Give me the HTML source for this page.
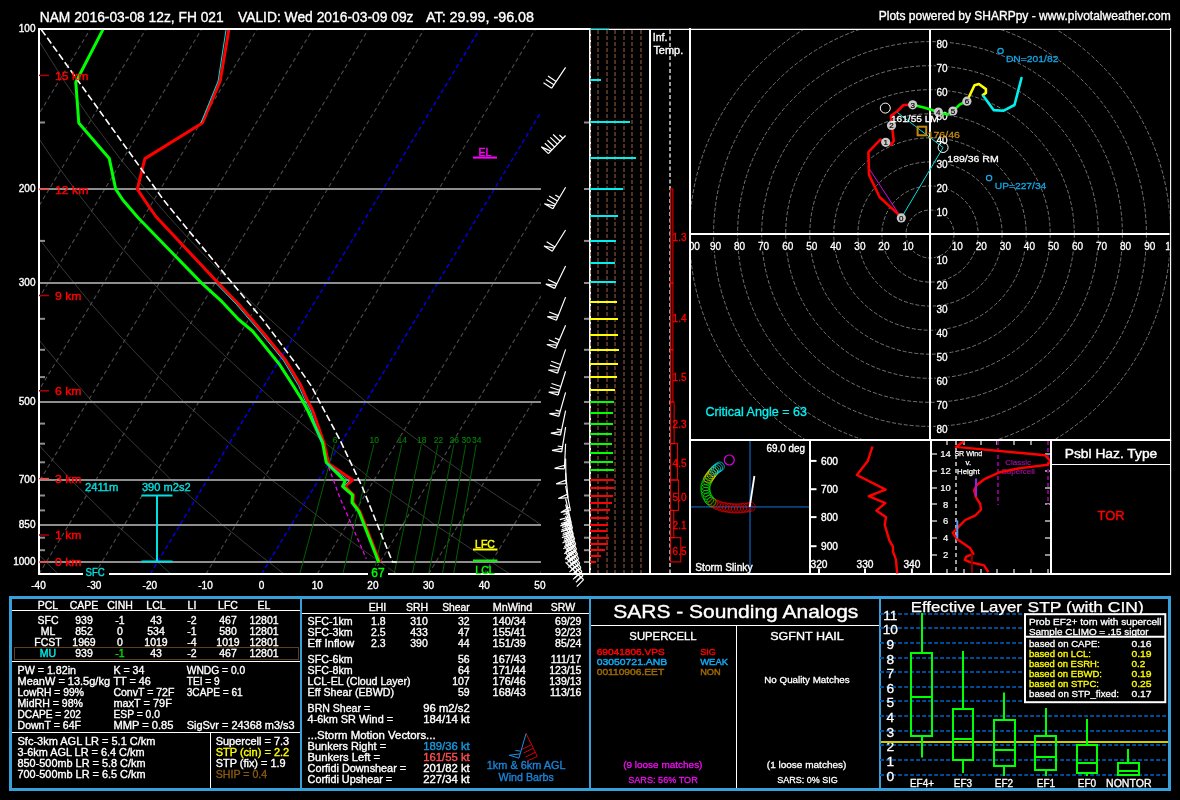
<!DOCTYPE html>
<html><head><meta charset="utf-8"><title>SHARPpy Sounding</title>
<style>
html,body{margin:0;padding:0;background:#000;}
body{width:1180px;height:800px;overflow:hidden;font-family:"Liberation Sans", sans-serif;}
svg{display:block;font-family:"Liberation Sans", sans-serif;will-change:transform;-webkit-font-smoothing:antialiased;}
text{white-space:pre;}
</style></head><body>
<svg width="1180" height="800" viewBox="0 0 1180 800" shape-rendering="auto">
<rect x="0" y="0" width="1180" height="800" fill="#000"/>
<defs><clipPath id="skclip"><rect x="40" y="30" width="501" height="543"/></clipPath></defs>
<g clip-path="url(#skclip)">
<path d="M-256.8 29.0 L-243.5 80.2 L-230.8 122.5 L-218.4 158.2 L-206.4 189.0 L-195.0 216.4 L-183.8 240.9 L-173.1 262.9 L-162.6 283.0 L-152.6 301.7 L-142.9 318.8 L-133.4 334.8 L-124.2 349.8 L-115.3 363.8 L-106.6 377.1 L-98.1 389.6 L-90.1 402.0 L-81.7 412.8 L-73.7 423.6 L-66.0 433.9 L-58.4 443.7 L-51.0 453.2 L-43.7 462.3 L-36.5 471.0 L-29.9 480.0 L-22.6 487.6 L-15.9 495.5 L-9.2 503.1 L-2.7 510.4 L3.8 517.5 L9.8 525.0 L16.3 531.2 L22.5 537.7 L28.5 544.1 L34.5 550.2 L40.4 556.3 L46.3 562.0 L51.9 567.8 L57.6 573.4" stroke="#383838" stroke-width="1" fill="none"/>
<path d="M-199.2 29.0 L-182.1 80.2 L-166.1 122.5 L-150.8 158.2 L-136.1 189.0 L-122.3 216.4 L-108.9 240.9 L-96.1 262.9 L-83.7 283.0 L-71.9 301.7 L-60.4 318.8 L-49.3 334.8 L-38.6 349.8 L-28.1 363.8 L-18.0 377.1 L-8.1 389.6 L1.2 402.0 L10.9 412.8 L20.1 423.6 L29.0 433.9 L37.8 443.7 L46.3 453.2 L54.7 462.3 L62.9 471.0 L70.7 480.0 L78.9 487.6 L86.6 495.5 L94.3 503.1 L101.7 510.4 L109.1 517.5 L116.0 525.0 L123.5 531.2 L130.5 537.7 L137.4 544.1 L144.2 550.2 L150.9 556.3 L157.6 562.0 L164.0 567.8 L170.4 573.4" stroke="#383838" stroke-width="1" fill="none"/>
<path d="M-141.5 29.0 L-120.7 80.2 L-101.3 122.5 L-83.1 158.2 L-65.9 189.0 L-49.6 216.4 L-34.0 240.9 L-19.2 262.9 L-4.8 283.0 L8.8 301.7 L22.0 318.8 L34.8 334.8 L47.1 349.8 L59.0 363.8 L70.6 377.1 L81.9 389.6 L92.5 402.0 L103.5 412.8 L113.9 423.6 L124.1 433.9 L134.0 443.7 L143.7 453.2 L153.1 462.3 L162.4 471.0 L171.2 480.0 L180.4 487.6 L189.2 495.5 L197.7 503.1 L206.2 510.4 L214.5 517.5 L222.3 525.0 L230.6 531.2 L238.5 537.7 L246.2 544.1 L253.9 550.2 L261.4 556.3 L268.9 562.0 L276.1 567.8 L283.3 573.4" stroke="#383838" stroke-width="1" fill="none"/>
<path d="M-83.9 29.0 L-59.2 80.2 L-36.6 122.5 L-15.5 158.2 L4.4 189.0 L23.1 216.4 L40.9 240.9 L57.8 262.9 L74.1 283.0 L89.5 301.7 L104.5 318.8 L118.9 334.8 L132.8 349.8 L146.2 363.8 L159.2 377.1 L171.9 389.6 L183.8 402.0 L196.1 412.8 L207.7 423.6 L219.1 433.9 L230.2 443.7 L241.0 453.2 L251.5 462.3 L261.9 471.0 L271.7 480.0 L282.0 487.6 L291.7 495.5 L301.2 503.1 L310.6 510.4 L319.8 517.5 L328.5 525.0 L337.7 531.2 L346.5 537.7 L355.1 544.1 L363.5 550.2 L371.9 556.3 L380.2 562.0 L388.2 567.8 L396.1 573.4" stroke="#383838" stroke-width="1" fill="none"/>
<path d="M-26.2 29.0 L2.2 80.2 L28.1 122.5 L52.1 158.2 L74.7 189.0 L95.8 216.4 L115.8 240.9 L134.8 262.9 L153.0 283.0 L170.3 301.7 L186.9 318.8 L203.0 334.8 L218.4 349.8 L233.4 363.8 L247.8 377.1 L261.8 389.6 L275.1 402.0 L288.7 412.8 L301.6 423.6 L314.1 433.9 L326.3 443.7 L338.3 453.2 L350.0 462.3 L361.4 471.0 L372.2 480.0 L383.5 487.6 L394.2 495.5 L404.7 503.1 L415.0 510.4 L425.2 517.5 L434.8 525.0 L444.9 531.2 L454.5 537.7 L463.9 544.1 L473.2 550.2 L482.4 556.3 L491.5 562.0 L500.3 567.8 L509.0 573.4" stroke="#383838" stroke-width="1" fill="none"/>
<path d="M31.4 29.0 L63.7 80.2 L92.8 122.5 L119.8 158.2 L145.0 189.0 L168.4 216.4 L190.7 240.9 L211.8 262.9 L231.9 283.0 L251.0 301.7 L269.4 318.8 L287.1 334.8 L304.1 349.8 L320.5 363.8 L336.4 377.1 L351.8 389.6 L366.4 402.0 L381.3 412.8 L395.4 423.6 L409.1 433.9 L422.5 443.7 L435.6 453.2 L448.4 462.3 L460.8 471.0 L472.7 480.0 L485.0 487.6 L496.7 495.5 L508.2 503.1 L519.5 510.4 L530.5 517.5 L541.0 525.0 L552.0 531.2 L562.5 537.7 L572.8 544.1 L582.9 550.2 L592.9 556.3 L602.8 562.0 L612.3 567.8 L621.9 573.4" stroke="#383838" stroke-width="1" fill="none"/>
<line x1="-628.8" y1="574.0" x2="-299.2" y2="29.0" stroke="#4c4c4c" stroke-width="1.1" stroke-dasharray="4.3 3"/>
<line x1="-573.2" y1="574.0" x2="-243.5" y2="29.0" stroke="#4c4c4c" stroke-width="1.1" stroke-dasharray="4.3 3"/>
<line x1="-517.5" y1="574.0" x2="-187.9" y2="29.0" stroke="#4c4c4c" stroke-width="1.1" stroke-dasharray="4.3 3"/>
<line x1="-461.9" y1="574.0" x2="-132.2" y2="29.0" stroke="#4c4c4c" stroke-width="1.1" stroke-dasharray="4.3 3"/>
<line x1="-406.2" y1="574.0" x2="-76.6" y2="29.0" stroke="#4c4c4c" stroke-width="1.1" stroke-dasharray="4.3 3"/>
<line x1="-350.6" y1="574.0" x2="-20.9" y2="29.0" stroke="#4c4c4c" stroke-width="1.1" stroke-dasharray="4.3 3"/>
<line x1="-294.9" y1="574.0" x2="34.7" y2="29.0" stroke="#4c4c4c" stroke-width="1.1" stroke-dasharray="4.3 3"/>
<line x1="-239.2" y1="574.0" x2="90.4" y2="29.0" stroke="#4c4c4c" stroke-width="1.1" stroke-dasharray="4.3 3"/>
<line x1="-183.6" y1="574.0" x2="146.0" y2="29.0" stroke="#4c4c4c" stroke-width="1.1" stroke-dasharray="4.3 3"/>
<line x1="-128.0" y1="574.0" x2="201.7" y2="29.0" stroke="#4c4c4c" stroke-width="1.1" stroke-dasharray="4.3 3"/>
<line x1="-72.3" y1="574.0" x2="257.3" y2="29.0" stroke="#4c4c4c" stroke-width="1.1" stroke-dasharray="4.3 3"/>
<line x1="-16.7" y1="574.0" x2="313.0" y2="29.0" stroke="#4c4c4c" stroke-width="1.1" stroke-dasharray="4.3 3"/>
<line x1="39.0" y1="574.0" x2="368.6" y2="29.0" stroke="#4c4c4c" stroke-width="1.1" stroke-dasharray="4.3 3"/>
<line x1="94.7" y1="574.0" x2="424.3" y2="29.0" stroke="#4c4c4c" stroke-width="1.1" stroke-dasharray="4.3 3"/>
<line x1="150.3" y1="574.0" x2="479.9" y2="29.0" stroke="#0000ff" stroke-width="1.3" stroke-dasharray="4.3 3"/>
<line x1="206.0" y1="574.0" x2="535.6" y2="29.0" stroke="#4c4c4c" stroke-width="1.1" stroke-dasharray="4.3 3"/>
<line x1="261.6" y1="574.0" x2="591.2" y2="29.0" stroke="#0000ff" stroke-width="1.3" stroke-dasharray="4.3 3"/>
<line x1="317.2" y1="574.0" x2="646.9" y2="29.0" stroke="#4c4c4c" stroke-width="1.1" stroke-dasharray="4.3 3"/>
<line x1="372.9" y1="574.0" x2="702.5" y2="29.0" stroke="#4c4c4c" stroke-width="1.1" stroke-dasharray="4.3 3"/>
<line x1="428.6" y1="574.0" x2="758.2" y2="29.0" stroke="#4c4c4c" stroke-width="1.1" stroke-dasharray="4.3 3"/>
<line x1="484.2" y1="574.0" x2="813.8" y2="29.0" stroke="#4c4c4c" stroke-width="1.1" stroke-dasharray="4.3 3"/>
<line x1="539.9" y1="574.0" x2="869.5" y2="29.0" stroke="#4c4c4c" stroke-width="1.1" stroke-dasharray="4.3 3"/>
<line x1="39.0" y1="189.0" x2="541.0" y2="189.0" stroke="#8e8e8e" stroke-width="2"/>
<line x1="39.0" y1="283.0" x2="541.0" y2="283.0" stroke="#8e8e8e" stroke-width="2"/>
<line x1="39.0" y1="402.0" x2="541.0" y2="402.0" stroke="#8e8e8e" stroke-width="2"/>
<line x1="39.0" y1="480.0" x2="541.0" y2="480.0" stroke="#8e8e8e" stroke-width="2"/>
<line x1="39.0" y1="525.0" x2="541.0" y2="525.0" stroke="#8e8e8e" stroke-width="2"/>
<line x1="39.0" y1="562.0" x2="541.0" y2="562.0" stroke="#8e8e8e" stroke-width="2"/>
<line x1="39.0" y1="122.5" x2="45.0" y2="122.5" stroke="#8e8e8e" stroke-width="2"/>
<line x1="39.0" y1="240.9" x2="45.0" y2="240.9" stroke="#8e8e8e" stroke-width="2"/>
<line x1="39.0" y1="318.8" x2="45.0" y2="318.8" stroke="#8e8e8e" stroke-width="2"/>
<line x1="39.0" y1="349.8" x2="45.0" y2="349.8" stroke="#8e8e8e" stroke-width="2"/>
<line x1="39.0" y1="377.1" x2="45.0" y2="377.1" stroke="#8e8e8e" stroke-width="2"/>
<line x1="39.0" y1="423.6" x2="45.0" y2="423.6" stroke="#8e8e8e" stroke-width="2"/>
<line x1="39.0" y1="443.7" x2="45.0" y2="443.7" stroke="#8e8e8e" stroke-width="2"/>
<line x1="39.0" y1="462.3" x2="45.0" y2="462.3" stroke="#8e8e8e" stroke-width="2"/>
<line x1="39.0" y1="495.5" x2="45.0" y2="495.5" stroke="#8e8e8e" stroke-width="2"/>
<line x1="39.0" y1="510.4" x2="45.0" y2="510.4" stroke="#8e8e8e" stroke-width="2"/>
<line x1="39.0" y1="537.7" x2="45.0" y2="537.7" stroke="#8e8e8e" stroke-width="2"/>
<line x1="39.0" y1="550.2" x2="45.0" y2="550.2" stroke="#8e8e8e" stroke-width="2"/>
<line x1="334.5" y1="444.5" x2="300.0" y2="573.0" stroke="#006000" stroke-width="1"/>
<line x1="373.8" y1="444.5" x2="343.0" y2="573.0" stroke="#006000" stroke-width="1"/>
<line x1="401.8" y1="444.5" x2="373.8" y2="573.0" stroke="#006000" stroke-width="1"/>
<line x1="421.3" y1="444.5" x2="394.3" y2="573.0" stroke="#006000" stroke-width="1"/>
<line x1="438.0" y1="444.5" x2="412.5" y2="573.0" stroke="#006000" stroke-width="1"/>
<line x1="453.8" y1="444.5" x2="428.8" y2="573.0" stroke="#006000" stroke-width="1"/>
<line x1="465.8" y1="444.5" x2="442.5" y2="573.0" stroke="#006000" stroke-width="1"/>
<line x1="476.3" y1="444.5" x2="453.8" y2="573.0" stroke="#006000" stroke-width="1"/>
</g>
<line x1="584.0" y1="122.5" x2="589.0" y2="122.5" stroke="#8e8e8e" stroke-width="2"/>
<line x1="584.0" y1="189.0" x2="589.0" y2="189.0" stroke="#8e8e8e" stroke-width="2"/>
<line x1="584.0" y1="240.9" x2="589.0" y2="240.9" stroke="#8e8e8e" stroke-width="2"/>
<line x1="584.0" y1="283.0" x2="589.0" y2="283.0" stroke="#8e8e8e" stroke-width="2"/>
<line x1="584.0" y1="318.8" x2="589.0" y2="318.8" stroke="#8e8e8e" stroke-width="2"/>
<line x1="584.0" y1="349.8" x2="589.0" y2="349.8" stroke="#8e8e8e" stroke-width="2"/>
<line x1="584.0" y1="377.1" x2="589.0" y2="377.1" stroke="#8e8e8e" stroke-width="2"/>
<line x1="584.0" y1="402.0" x2="589.0" y2="402.0" stroke="#8e8e8e" stroke-width="2"/>
<line x1="584.0" y1="423.6" x2="589.0" y2="423.6" stroke="#8e8e8e" stroke-width="2"/>
<line x1="584.0" y1="443.7" x2="589.0" y2="443.7" stroke="#8e8e8e" stroke-width="2"/>
<line x1="584.0" y1="462.3" x2="589.0" y2="462.3" stroke="#8e8e8e" stroke-width="2"/>
<line x1="584.0" y1="480.0" x2="589.0" y2="480.0" stroke="#8e8e8e" stroke-width="2"/>
<line x1="584.0" y1="495.5" x2="589.0" y2="495.5" stroke="#8e8e8e" stroke-width="2"/>
<line x1="584.0" y1="510.4" x2="589.0" y2="510.4" stroke="#8e8e8e" stroke-width="2"/>
<line x1="584.0" y1="525.0" x2="589.0" y2="525.0" stroke="#8e8e8e" stroke-width="2"/>
<line x1="584.0" y1="537.7" x2="589.0" y2="537.7" stroke="#8e8e8e" stroke-width="2"/>
<line x1="584.0" y1="550.2" x2="589.0" y2="550.2" stroke="#8e8e8e" stroke-width="2"/>
<line x1="584.0" y1="562.0" x2="589.0" y2="562.0" stroke="#8e8e8e" stroke-width="2"/>
<text x="335.0" y="442.5" font-size="8.5" fill="#008800" text-anchor="middle" stroke="#008800" stroke-width="0.1">6</text>
<text x="374.3" y="442.5" font-size="8.5" fill="#008800" text-anchor="middle" stroke="#008800" stroke-width="0.1">10</text>
<text x="402.3" y="442.5" font-size="8.5" fill="#008800" text-anchor="middle" stroke="#008800" stroke-width="0.1">14</text>
<text x="421.8" y="442.5" font-size="8.5" fill="#008800" text-anchor="middle" stroke="#008800" stroke-width="0.1">18</text>
<text x="438.5" y="442.5" font-size="8.5" fill="#008800" text-anchor="middle" stroke="#008800" stroke-width="0.1">22</text>
<text x="454.3" y="442.5" font-size="8.5" fill="#008800" text-anchor="middle" stroke="#008800" stroke-width="0.1">26</text>
<text x="466.3" y="442.5" font-size="8.5" fill="#008800" text-anchor="middle" stroke="#008800" stroke-width="0.1">30</text>
<text x="476.8" y="442.5" font-size="8.5" fill="#008800" text-anchor="middle" stroke="#008800" stroke-width="0.1">34</text>
<defs><clipPath id="skclip2"><rect x="38" y="28" width="503" height="547"/></clipPath></defs>
<g clip-path="url(#skclip2)" stroke-linejoin="round" stroke-linecap="butt">
<path d="M323.8 453.8 L340.0 498.0 L366.3 558.8" stroke="#f000f0" stroke-width="1.3" fill="none" stroke-dasharray="4 3"/>
<path d="M229.1 28.1 L220.2 81.0 L202.4 123.0 L144.9 158.6 L137.3 189.1 L144.5 200.0 L155.9 216.5 L218.2 283.1 L238.6 304.2 L262.7 332.2 L285.6 360.2 L300.9 385.6 L307.2 400.0 L312.5 410.0 L323.8 442.5 L328.8 463.8 L352.5 480.0 L345.0 486.3 L353.5 495.0 L353.0 502.5 L359.8 511.3 L380.0 562.5" stroke="#ff0000" stroke-width="3" fill="none"/>
<path d="M103.7 28.1 L75.8 82.3 L78.8 123.0 L109.3 158.6 L115.7 189.1 L122.9 200.0 L138.1 217.8 L201.7 283.1 L222.0 301.7 L238.6 319.5 L252.5 331.0 L279.2 364.0 L293.2 385.6 L302.1 400.0 L307.5 410.0 L322.5 442.5 L326.3 462.5 L345.0 481.3 L342.5 486.3 L352.5 495.0 L352.0 502.5 L358.8 511.3 L378.8 562.5" stroke="#00ff00" stroke-width="3" fill="none"/>
<path d="M226.3 28.0 L218.1 81.0 L200.9 123.0" stroke="#00e0e0" stroke-width="1" fill="none"/>
<path d="M215.7 283.1 L236.2 304.2 L260.2 332.2 L283.2 360.2 L298.5 385.6 L304.7 400.0 L310.2 410.0 L321.5 442.5" stroke="#00e0e0" stroke-width="1" fill="none"/>
<path d="M327.5 463.8 L349.0 481.0 L343.5 486.3" stroke="#00e0e0" stroke-width="1" fill="none"/>
<path d="M41.4 29.7 L163.6 200.0 L180.0 220.1 L232.2 283.1 L262.7 319.5 L293.2 360.2 L311.0 385.6 L318.6 400.0 L340.0 440.0 L362.5 487.5 L377.5 525.0 L392.5 562.0 L397.0 562.0" stroke="#fff" stroke-width="1.6" fill="none" stroke-dasharray="7 3"/>
</g>
<rect x="39.0" y="29.0" width="551.0" height="545.0" stroke="#fff" stroke-width="2" fill="none"/>
<text x="35.5" y="32.4" font-size="10" fill="#fff" text-anchor="end" stroke="#fff" stroke-width="0.35">100</text>
<text x="35.5" y="192.4" font-size="10" fill="#fff" text-anchor="end" stroke="#fff" stroke-width="0.35">200</text>
<text x="35.5" y="286.4" font-size="10" fill="#fff" text-anchor="end" stroke="#fff" stroke-width="0.35">300</text>
<text x="35.5" y="405.4" font-size="10" fill="#fff" text-anchor="end" stroke="#fff" stroke-width="0.35">500</text>
<text x="35.5" y="483.4" font-size="10" fill="#fff" text-anchor="end" stroke="#fff" stroke-width="0.35">700</text>
<text x="35.5" y="528.4" font-size="10" fill="#fff" text-anchor="end" stroke="#fff" stroke-width="0.35">850</text>
<text x="35.5" y="565.4" font-size="10" fill="#fff" text-anchor="end" stroke="#fff" stroke-width="0.35">1000</text>
<text x="38.5" y="588.8" font-size="10" fill="#fff" text-anchor="middle" stroke="#fff" stroke-width="0.35">-40</text>
<text x="94.2" y="588.8" font-size="10" fill="#fff" text-anchor="middle" stroke="#fff" stroke-width="0.35">-30</text>
<text x="149.8" y="588.8" font-size="10" fill="#fff" text-anchor="middle" stroke="#fff" stroke-width="0.35">-20</text>
<text x="205.5" y="588.8" font-size="10" fill="#fff" text-anchor="middle" stroke="#fff" stroke-width="0.35">-10</text>
<text x="261.6" y="588.8" font-size="10" fill="#fff" text-anchor="middle" stroke="#fff" stroke-width="0.35">0</text>
<text x="317.2" y="588.8" font-size="10" fill="#fff" text-anchor="middle" stroke="#fff" stroke-width="0.35">10</text>
<text x="372.9" y="588.8" font-size="10" fill="#fff" text-anchor="middle" stroke="#fff" stroke-width="0.35">20</text>
<text x="428.6" y="588.8" font-size="10" fill="#fff" text-anchor="middle" stroke="#fff" stroke-width="0.35">30</text>
<text x="484.2" y="588.8" font-size="10" fill="#fff" text-anchor="middle" stroke="#fff" stroke-width="0.35">40</text>
<text x="539.9" y="588.8" font-size="10" fill="#fff" text-anchor="middle" stroke="#fff" stroke-width="0.35">50</text>
<line x1="39.0" y1="562.0" x2="49.0" y2="562.0" stroke="#ff4040" stroke-width="1.5"/>
<text x="55.0" y="566.2" font-size="11.5" fill="#ff0000" textLength="26.5" lengthAdjust="spacingAndGlyphs" stroke="#ff0000" stroke-width="0.4">0 km</text>
<line x1="39.0" y1="535.0" x2="49.0" y2="535.0" stroke="#b00000" stroke-width="1.5"/>
<text x="55.0" y="539.2" font-size="11.5" fill="#ff0000" textLength="26.5" lengthAdjust="spacingAndGlyphs" stroke="#ff0000" stroke-width="0.4">1 km</text>
<line x1="39.0" y1="478.6" x2="49.0" y2="478.6" stroke="#ff4040" stroke-width="1.5"/>
<text x="55.0" y="482.8" font-size="11.5" fill="#ff0000" textLength="26.5" lengthAdjust="spacingAndGlyphs" stroke="#ff0000" stroke-width="0.4">3 km</text>
<line x1="39.0" y1="390.8" x2="49.0" y2="390.8" stroke="#b00000" stroke-width="1.5"/>
<text x="55.0" y="395.0" font-size="11.5" fill="#ff0000" textLength="26.5" lengthAdjust="spacingAndGlyphs" stroke="#ff0000" stroke-width="0.4">6 km</text>
<line x1="39.0" y1="295.5" x2="49.0" y2="295.5" stroke="#b00000" stroke-width="1.5"/>
<text x="55.0" y="299.7" font-size="11.5" fill="#ff0000" textLength="26.5" lengthAdjust="spacingAndGlyphs" stroke="#ff0000" stroke-width="0.4">9 km</text>
<line x1="39.0" y1="189.3" x2="49.0" y2="189.3" stroke="#ff4040" stroke-width="1.5"/>
<text x="55.0" y="193.5" font-size="11.5" fill="#ff0000" textLength="33.5" lengthAdjust="spacingAndGlyphs" stroke="#ff0000" stroke-width="0.4">12 km</text>
<line x1="39.0" y1="75.4" x2="49.0" y2="75.4" stroke="#b00000" stroke-width="1.5"/>
<text x="55.0" y="79.6" font-size="11.5" fill="#ff0000" textLength="33.5" lengthAdjust="spacingAndGlyphs" stroke="#ff0000" stroke-width="0.4">15 km</text>
<line x1="141.5" y1="495.5" x2="172.5" y2="495.5" stroke="#00e0e0" stroke-width="2"/>
<line x1="141.5" y1="561.5" x2="172.5" y2="561.5" stroke="#00e0e0" stroke-width="2"/>
<line x1="157.0" y1="495.5" x2="157.0" y2="561.5" stroke="#00e0e0" stroke-width="2"/>
<text x="84.9" y="490.5" font-size="10.5" fill="#00e0e0" textLength="33.6" lengthAdjust="spacingAndGlyphs" stroke="#00e0e0" stroke-width="0.35">2411m</text>
<text x="141.9" y="490.5" font-size="10.5" fill="#00e0e0" textLength="48.8" lengthAdjust="spacingAndGlyphs" stroke="#00e0e0" stroke-width="0.35">390 m2s2</text>
<rect x="83.0" y="568.0" width="26.0" height="10.0" stroke="none" stroke-width="0" fill="#000"/>
<text x="85.5" y="575.8" font-size="10" fill="#00e0e0" textLength="19.3" lengthAdjust="spacingAndGlyphs" stroke="#00e0e0" stroke-width="0.35">SFC</text>
<rect x="368.0" y="566.0" width="20.0" height="10.0" stroke="none" stroke-width="0" fill="#000"/>
<text x="378.0" y="576.5" font-size="12" fill="#00ff00" text-anchor="middle" stroke="#00ff00" stroke-width="0.4">67</text>
<line x1="473.0" y1="549.5" x2="497.5" y2="549.5" stroke="#ffff00" stroke-width="2"/>
<text x="485.0" y="548.0" font-size="10.5" fill="#ffff00" text-anchor="middle" stroke="#ffff00" stroke-width="0.45">LFC</text>
<line x1="473.0" y1="560.5" x2="497.5" y2="560.5" stroke="#00ff00" stroke-width="2"/>
<text x="485.0" y="573.5" font-size="10.5" fill="#00ff00" text-anchor="middle" stroke="#00ff00" stroke-width="0.45">LCL</text>
<line x1="473.0" y1="157.6" x2="497.0" y2="157.6" stroke="#ff00ff" stroke-width="2"/>
<text x="485.0" y="156.0" font-size="10.5" fill="#ff00ff" text-anchor="middle" stroke="#ff00ff" stroke-width="0.45">EL</text>
<text x="39.7" y="22.0" font-size="14" fill="#fff" textLength="184.0" lengthAdjust="spacingAndGlyphs" stroke="#fff" stroke-width="0.35">NAM 2016-03-08 12z, FH 021</text>
<text x="238.0" y="22.0" font-size="14" fill="#fff" textLength="175.5" lengthAdjust="spacingAndGlyphs" stroke="#fff" stroke-width="0.35">VALID: Wed 2016-03-09 09z</text>
<text x="426.0" y="22.0" font-size="14" fill="#fff" textLength="108.0" lengthAdjust="spacingAndGlyphs" stroke="#fff" stroke-width="0.35">AT: 29.99, -96.08</text>
<text x="878.7" y="20.0" font-size="12.5" fill="#fff" textLength="292.0" lengthAdjust="spacingAndGlyphs" stroke="#fff" stroke-width="0.35">Plots powered by SHARPpy - www.pivotalweather.com</text>
<path d="M565.6 67.4 L551.7 88.2 M551.7 88.2 L543.5 82.7 M553.9 84.8 L545.8 79.4 M556.1 81.5 L548.0 76.1" stroke="#fff" stroke-width="1.2" fill="none"/>
<path d="M565.6 135.5 L548.4 153.6 M548.4 153.6 L541.3 146.9 L550.8 151.1 M551.9 149.9 L544.8 143.2 M554.6 147.0 L547.5 140.3 M557.4 144.1 L550.3 137.4 M560.2 141.2 L553.1 134.5 M562.9 138.3 L559.4 135.0" stroke="#fff" stroke-width="1.2" fill="none"/>
<path d="M565.6 187.3 L552.9 208.8 M552.9 208.8 L544.4 203.8 L554.6 205.8 M555.5 204.4 L547.0 199.4 M557.5 201.0 L549.1 196.0 M559.5 197.5 L555.3 195.0" stroke="#fff" stroke-width="1.2" fill="none"/>
<path d="M565.6 230.0 L552.3 251.2 M552.3 251.2 L544.0 246.0 L554.2 248.2 M555.0 246.9 L546.7 241.7" stroke="#fff" stroke-width="1.2" fill="none"/>
<path d="M565.6 266.0 L554.6 288.4 M554.6 288.4 L545.8 284.1 L556.1 285.3 M556.8 283.9 L548.0 279.5" stroke="#fff" stroke-width="1.2" fill="none"/>
<path d="M565.6 297.1 L556.4 320.3 M556.4 320.3 L547.3 316.7 L557.7 317.1 M558.3 315.6 L549.2 312.0" stroke="#fff" stroke-width="1.2" fill="none"/>
<path d="M565.6 325.3 L555.8 348.3 M555.8 348.3 L546.8 344.5 L557.2 345.1 M557.8 343.6 L548.8 339.8 M559.4 339.9 L554.9 338.0" stroke="#fff" stroke-width="1.2" fill="none"/>
<path d="M565.6 349.4 L557.6 373.1 M557.6 373.1 L548.3 370.0 L558.7 369.8 M559.2 368.3 L550.0 365.1 M560.5 364.5 L551.2 361.3" stroke="#fff" stroke-width="1.2" fill="none"/>
<path d="M565.6 371.3 L558.1 395.1 M558.1 395.1 L548.7 392.2 L559.1 391.8 M559.6 390.3 L550.3 387.3 M560.8 386.5 L551.5 383.5" stroke="#fff" stroke-width="1.2" fill="none"/>
<path d="M565.6 392.3 L558.8 416.4 M558.8 416.4 L549.4 413.7 L559.7 413.0 M560.2 411.4 L555.5 410.1" stroke="#fff" stroke-width="1.2" fill="none"/>
<path d="M565.6 410.6 L560.5 435.1 M560.5 435.1 L550.9 433.1 L561.2 431.6 M561.5 430.1 L556.7 429.1" stroke="#fff" stroke-width="1.2" fill="none"/>
<path d="M565.6 427.1 L561.7 451.8 M561.7 451.8 L552.0 450.3 L562.3 448.3 M562.5 446.8 L557.7 446.0" stroke="#fff" stroke-width="1.2" fill="none"/>
<path d="M565.6 443.8 L564.4 468.8 M564.4 468.8 L554.6 468.3 L564.6 465.3" stroke="#fff" stroke-width="1.2" fill="none"/>
<path d="M565.6 458.6 L566.0 483.6 M566.0 483.6 L556.2 483.8 L565.9 480.1" stroke="#fff" stroke-width="1.2" fill="none"/>
<path d="M565.6 472.7 L568.0 497.6 M568.0 497.6 L558.3 498.5 L567.7 494.1" stroke="#fff" stroke-width="1.2" fill="none"/>
<path d="M565.6 486.0 L570.4 510.5 M570.4 510.5 L560.8 512.4 L569.7 507.1" stroke="#fff" stroke-width="1.2" fill="none"/>
<path d="M565.6 498.6 L571.2 523.0 M571.2 523.0 L561.7 525.2 L570.4 519.5" stroke="#fff" stroke-width="1.2" fill="none"/>
<path d="M565.6 504.5 L572.5 528.5 M572.5 528.5 L563.1 531.2 M571.4 524.7 L562.0 527.4 M570.3 520.8 L560.9 523.5 M569.2 517.0 L559.8 519.7 M568.1 513.2 L563.4 514.5" stroke="#fff" stroke-width="1.2" fill="none"/>
<path d="M565.6 510.5 L573.3 534.3 M573.3 534.3 L564.0 537.3 M572.1 530.5 L562.8 533.5 M570.9 526.7 L561.5 529.7 M569.6 522.9 L560.3 525.9 M568.4 519.1 L563.7 520.6" stroke="#fff" stroke-width="1.2" fill="none"/>
<path d="M565.6 516.0 L574.6 539.3 M574.6 539.3 L565.4 542.9 M573.1 535.6 L564.0 539.1 M571.7 531.9 L562.5 535.4 M570.3 528.1 L561.1 531.6 M568.8 524.4 L564.3 526.2" stroke="#fff" stroke-width="1.2" fill="none"/>
<path d="M565.6 521.8 L575.8 544.6 M575.8 544.6 L566.8 548.6 M574.1 541.0 L565.2 545.0 M572.5 537.3 L563.6 541.3 M570.9 533.7 L561.9 537.7" stroke="#fff" stroke-width="1.2" fill="none"/>
<path d="M565.6 527.0 L576.6 549.5 M576.6 549.5 L567.8 553.8 M574.8 545.9 L566.0 550.2 M573.1 542.3 L564.2 546.6 M571.3 538.7 L562.5 543.0" stroke="#fff" stroke-width="1.2" fill="none"/>
<path d="M565.6 532.6 L577.7 554.5 M577.7 554.5 L569.1 559.2 M575.8 551.0 L567.2 555.7 M573.8 547.5 L565.3 552.2 M571.9 544.0 L563.3 548.7" stroke="#fff" stroke-width="1.2" fill="none"/>
<path d="M565.6 537.5 L578.8 558.7 M578.8 558.7 L570.5 563.9 M576.7 555.3 L568.4 560.5 M574.6 551.9 L566.3 557.1 M572.5 548.5 L564.2 553.7" stroke="#fff" stroke-width="1.2" fill="none"/>
<path d="M565.6 543.0 L579.9 563.5 M579.9 563.5 L571.9 569.1 M577.6 560.2 L569.6 565.8 M575.4 556.9 L567.3 562.5 M573.1 553.6 L565.0 559.3" stroke="#fff" stroke-width="1.2" fill="none"/>
<path d="M565.6 548.0 L581.0 567.7 M581.0 567.7 L573.3 573.7 M578.5 564.5 L570.8 570.6 M576.1 561.4 L568.3 567.4 M573.6 558.2 L569.7 561.3" stroke="#fff" stroke-width="1.2" fill="none"/>
<path d="M565.6 552.8 L582.0 571.7 M582.0 571.7 L574.6 578.1 M579.4 568.6 L572.0 575.1 M576.8 565.6 L569.4 572.1" stroke="#fff" stroke-width="1.2" fill="none"/>
<path d="M565.6 557.5 L583.0 575.5 M583.0 575.5 L575.9 582.3 M580.2 572.6 L573.1 579.4 M577.4 569.7 L573.9 573.1" stroke="#fff" stroke-width="1.2" fill="none"/>
<path d="M565.6 562.3 L583.6 579.7 M583.6 579.7 L576.8 586.7 M580.7 576.9 L577.3 580.4" stroke="#fff" stroke-width="1.2" fill="none"/>
<line x1="598.0" y1="30.0" x2="598.0" y2="573.0" stroke="#50301f" stroke-width="2" stroke-dasharray="4 2"/>
<line x1="607.0" y1="30.0" x2="607.0" y2="573.0" stroke="#50301f" stroke-width="2" stroke-dasharray="4 2"/>
<line x1="615.0" y1="30.0" x2="615.0" y2="573.0" stroke="#50301f" stroke-width="2" stroke-dasharray="4 2"/>
<line x1="624.0" y1="30.0" x2="624.0" y2="573.0" stroke="#50301f" stroke-width="2" stroke-dasharray="4 2"/>
<line x1="632.0" y1="30.0" x2="632.0" y2="573.0" stroke="#50301f" stroke-width="2" stroke-dasharray="4 2"/>
<line x1="641.0" y1="30.0" x2="641.0" y2="573.0" stroke="#50301f" stroke-width="2" stroke-dasharray="4 2"/>
<line x1="590.5" y1="30.0" x2="590.5" y2="573.0" stroke="#b08a78" stroke-width="1" stroke-dasharray="4 2"/>
<line x1="590.0" y1="80.0" x2="601.0" y2="80.0" stroke="#00f0f0" stroke-width="2"/>
<line x1="590.0" y1="122.0" x2="630.0" y2="122.0" stroke="#00f0f0" stroke-width="2"/>
<line x1="590.0" y1="158.0" x2="636.0" y2="158.0" stroke="#00f0f0" stroke-width="2"/>
<line x1="590.0" y1="189.0" x2="623.0" y2="189.0" stroke="#00f0f0" stroke-width="2"/>
<line x1="590.0" y1="216.0" x2="618.0" y2="216.0" stroke="#00f0f0" stroke-width="2"/>
<line x1="590.0" y1="241.0" x2="616.0" y2="241.0" stroke="#00f0f0" stroke-width="2"/>
<line x1="590.0" y1="263.0" x2="615.0" y2="263.0" stroke="#00f0f0" stroke-width="2"/>
<line x1="590.0" y1="282.0" x2="616.0" y2="282.0" stroke="#00f0f0" stroke-width="2"/>
<line x1="590.0" y1="302.0" x2="617.0" y2="302.0" stroke="#ffff00" stroke-width="2"/>
<line x1="590.0" y1="319.0" x2="618.0" y2="319.0" stroke="#ffff00" stroke-width="2"/>
<line x1="590.0" y1="335.0" x2="618.0" y2="335.0" stroke="#ffff00" stroke-width="2"/>
<line x1="590.0" y1="350.0" x2="619.0" y2="350.0" stroke="#ffff00" stroke-width="2"/>
<line x1="590.0" y1="364.0" x2="618.0" y2="364.0" stroke="#ffff00" stroke-width="2"/>
<line x1="590.0" y1="377.0" x2="617.0" y2="377.0" stroke="#ffff00" stroke-width="2"/>
<line x1="590.0" y1="390.0" x2="615.0" y2="390.0" stroke="#ffff00" stroke-width="2"/>
<line x1="590.0" y1="402.0" x2="614.0" y2="402.0" stroke="#00ff00" stroke-width="2"/>
<line x1="590.0" y1="413.0" x2="613.0" y2="413.0" stroke="#00ff00" stroke-width="2"/>
<line x1="590.0" y1="424.0" x2="613.0" y2="424.0" stroke="#00ff00" stroke-width="2"/>
<line x1="590.0" y1="434.0" x2="612.0" y2="434.0" stroke="#00ff00" stroke-width="2"/>
<line x1="590.0" y1="444.0" x2="612.0" y2="444.0" stroke="#00ff00" stroke-width="2"/>
<line x1="590.0" y1="453.0" x2="613.0" y2="453.0" stroke="#00ff00" stroke-width="2"/>
<line x1="590.0" y1="462.0" x2="613.0" y2="462.0" stroke="#00ff00" stroke-width="2"/>
<line x1="590.0" y1="470.0" x2="614.0" y2="470.0" stroke="#00ff00" stroke-width="2"/>
<line x1="590.0" y1="480.0" x2="614.0" y2="480.0" stroke="#ff0000" stroke-width="2"/>
<line x1="590.0" y1="488.0" x2="614.0" y2="488.0" stroke="#ff0000" stroke-width="2"/>
<line x1="590.0" y1="496.0" x2="613.0" y2="496.0" stroke="#ff0000" stroke-width="2"/>
<line x1="590.0" y1="503.0" x2="612.0" y2="503.0" stroke="#ff0000" stroke-width="2"/>
<line x1="590.0" y1="510.0" x2="610.0" y2="510.0" stroke="#ff0000" stroke-width="2"/>
<line x1="590.0" y1="518.0" x2="609.0" y2="518.0" stroke="#ff0000" stroke-width="2"/>
<line x1="590.0" y1="525.0" x2="608.0" y2="525.0" stroke="#ff0000" stroke-width="2"/>
<line x1="590.0" y1="531.0" x2="607.0" y2="531.0" stroke="#ff0000" stroke-width="2"/>
<line x1="590.0" y1="538.0" x2="609.0" y2="538.0" stroke="#ff0000" stroke-width="2"/>
<line x1="590.0" y1="544.0" x2="608.0" y2="544.0" stroke="#ff0000" stroke-width="2"/>
<line x1="590.0" y1="550.0" x2="605.0" y2="550.0" stroke="#ff0000" stroke-width="2"/>
<line x1="590.0" y1="556.0" x2="601.0" y2="556.0" stroke="#ff0000" stroke-width="2"/>
<line x1="590.0" y1="562.0" x2="596.0" y2="562.0" stroke="#ff0000" stroke-width="2"/>
<line x1="589.0" y1="29.4" x2="691.0" y2="29.4" stroke="#fff" stroke-width="1.2"/>
<line x1="589.5" y1="28.0" x2="589.5" y2="575.0" stroke="#fff" stroke-width="1"/>
<line x1="589.0" y1="574.0" x2="691.0" y2="574.0" stroke="#fff" stroke-width="2"/>
<line x1="590.0" y1="29.2" x2="609.0" y2="29.2" stroke="#00e0e0" stroke-width="1.2"/>
<line x1="650.0" y1="29.0" x2="650.0" y2="574.0" stroke="#fff" stroke-width="2"/>
<line x1="690.0" y1="29.0" x2="690.0" y2="574.0" stroke="#fff" stroke-width="2"/>
<line x1="670.0" y1="30.0" x2="670.0" y2="573.0" stroke="#a0a0a0" stroke-width="2" stroke-dasharray="4 2.5"/>
<text x="652.8" y="40.8" font-size="10.5" fill="#fff" textLength="14.5" lengthAdjust="spacingAndGlyphs" stroke="#fff" stroke-width="0.35">Inf.</text>
<text x="653.4" y="53.6" font-size="10.5" fill="#fff" textLength="29.8" lengthAdjust="spacingAndGlyphs" stroke="#fff" stroke-width="0.35">Temp.</text>
<rect x="670.5" y="537.7" width="10.3" height="24.2" stroke="#ff0000" stroke-width="1" fill="none"/>
<text x="672.6" y="555.1" font-size="10" fill="#ff0000" stroke="#ff0000" stroke-width="0.3">6.5</text>
<rect x="670.5" y="510.4" width="3.3" height="27.3" stroke="#ff0000" stroke-width="1" fill="none"/>
<text x="672.6" y="529.4" font-size="10" fill="#ff0000" stroke="#ff0000" stroke-width="0.3">2.1</text>
<rect x="670.5" y="480.0" width="7.9" height="30.4" stroke="#ff0000" stroke-width="1" fill="none"/>
<text x="672.6" y="500.5" font-size="10" fill="#ff0000" stroke="#ff0000" stroke-width="0.3">5.0</text>
<rect x="670.5" y="443.7" width="7.1" height="36.3" stroke="#ff0000" stroke-width="1" fill="none"/>
<text x="672.6" y="467.2" font-size="10" fill="#ff0000" stroke="#ff0000" stroke-width="0.3">4.5</text>
<rect x="670.5" y="402.0" width="3.6" height="41.7" stroke="#ff0000" stroke-width="1" fill="none"/>
<text x="672.6" y="428.2" font-size="10" fill="#ff0000" stroke="#ff0000" stroke-width="0.3">2.3</text>
<rect x="670.5" y="349.8" width="2.4" height="52.2" stroke="#ff0000" stroke-width="1" fill="none"/>
<text x="672.6" y="381.2" font-size="10" fill="#ff0000" stroke="#ff0000" stroke-width="0.3">1.5</text>
<rect x="670.5" y="283.0" width="2.4" height="66.8" stroke="#ff0000" stroke-width="1" fill="none"/>
<text x="672.6" y="321.7" font-size="10" fill="#ff0000" stroke="#ff0000" stroke-width="0.3">1.4</text>
<rect x="670.5" y="189.0" width="2.4" height="94.0" stroke="#ff0000" stroke-width="1" fill="none"/>
<text x="672.6" y="241.3" font-size="10" fill="#ff0000" stroke="#ff0000" stroke-width="0.3">1.3</text>
<defs><clipPath id="hclip"><rect x="691" y="30" width="478.5" height="409"/></clipPath></defs>
<g clip-path="url(#hclip)">
<circle cx="930.0" cy="234.0" r="24.0" stroke="#747474" stroke-width="1" fill="none" stroke-dasharray="3.9 2"/>
<circle cx="930.0" cy="234.0" r="48.1" stroke="#747474" stroke-width="1" fill="none" stroke-dasharray="3.9 2"/>
<circle cx="930.0" cy="234.0" r="72.1" stroke="#747474" stroke-width="1" fill="none" stroke-dasharray="3.9 2"/>
<circle cx="930.0" cy="234.0" r="96.2" stroke="#747474" stroke-width="1" fill="none" stroke-dasharray="3.9 2"/>
<circle cx="930.0" cy="234.0" r="120.2" stroke="#747474" stroke-width="1" fill="none" stroke-dasharray="3.9 2"/>
<circle cx="930.0" cy="234.0" r="144.3" stroke="#747474" stroke-width="1" fill="none" stroke-dasharray="3.9 2"/>
<circle cx="930.0" cy="234.0" r="168.3" stroke="#747474" stroke-width="1" fill="none" stroke-dasharray="3.9 2"/>
<circle cx="930.0" cy="234.0" r="192.4" stroke="#747474" stroke-width="1" fill="none" stroke-dasharray="3.9 2"/>
<circle cx="930.0" cy="234.0" r="216.4" stroke="#747474" stroke-width="1" fill="none" stroke-dasharray="3.9 2"/>
<circle cx="930.0" cy="234.0" r="240.5" stroke="#747474" stroke-width="1" fill="none" stroke-dasharray="3.9 2"/>
</g>
<line x1="930.0" y1="30.0" x2="930.0" y2="439.0" stroke="#fff" stroke-width="2"/>
<line x1="691.0" y1="234.0" x2="1169.5" y2="234.0" stroke="#fff" stroke-width="2"/>
<g clip-path="url(#hclip)">
<rect x="935.9" y="208.7" width="12.2" height="8.4" stroke="none" stroke-width="0" fill="#000"/>
<text x="942.0" y="216.3" font-size="10" fill="#fff" text-anchor="middle" stroke="#fff" stroke-width="0.3">10</text>
<rect x="935.9" y="256.8" width="12.2" height="8.4" stroke="none" stroke-width="0" fill="#000"/>
<text x="942.0" y="264.4" font-size="10" fill="#fff" text-anchor="middle" stroke="#fff" stroke-width="0.3">10</text>
<rect x="935.9" y="184.6" width="12.2" height="8.4" stroke="none" stroke-width="0" fill="#000"/>
<text x="942.0" y="192.3" font-size="10" fill="#fff" text-anchor="middle" stroke="#fff" stroke-width="0.3">20</text>
<rect x="935.9" y="280.8" width="12.2" height="8.4" stroke="none" stroke-width="0" fill="#000"/>
<text x="942.0" y="288.5" font-size="10" fill="#fff" text-anchor="middle" stroke="#fff" stroke-width="0.3">20</text>
<rect x="935.9" y="160.6" width="12.2" height="8.4" stroke="none" stroke-width="0" fill="#000"/>
<text x="942.0" y="168.3" font-size="10" fill="#fff" text-anchor="middle" stroke="#fff" stroke-width="0.3">30</text>
<rect x="935.9" y="304.8" width="12.2" height="8.4" stroke="none" stroke-width="0" fill="#000"/>
<text x="942.0" y="312.5" font-size="10" fill="#fff" text-anchor="middle" stroke="#fff" stroke-width="0.3">30</text>
<rect x="935.9" y="136.5" width="12.2" height="8.4" stroke="none" stroke-width="0" fill="#000"/>
<text x="942.0" y="144.2" font-size="10" fill="#fff" text-anchor="middle" stroke="#fff" stroke-width="0.3">40</text>
<rect x="935.9" y="328.9" width="12.2" height="8.4" stroke="none" stroke-width="0" fill="#000"/>
<text x="942.0" y="336.6" font-size="10" fill="#fff" text-anchor="middle" stroke="#fff" stroke-width="0.3">40</text>
<rect x="935.9" y="112.5" width="12.2" height="8.4" stroke="none" stroke-width="0" fill="#000"/>
<text x="942.0" y="120.2" font-size="10" fill="#fff" text-anchor="middle" stroke="#fff" stroke-width="0.3">50</text>
<rect x="935.9" y="352.9" width="12.2" height="8.4" stroke="none" stroke-width="0" fill="#000"/>
<text x="942.0" y="360.6" font-size="10" fill="#fff" text-anchor="middle" stroke="#fff" stroke-width="0.3">50</text>
<rect x="935.9" y="88.4" width="12.2" height="8.4" stroke="none" stroke-width="0" fill="#000"/>
<text x="942.0" y="96.1" font-size="10" fill="#fff" text-anchor="middle" stroke="#fff" stroke-width="0.3">60</text>
<rect x="935.9" y="377.0" width="12.2" height="8.4" stroke="none" stroke-width="0" fill="#000"/>
<text x="942.0" y="384.7" font-size="10" fill="#fff" text-anchor="middle" stroke="#fff" stroke-width="0.3">60</text>
<rect x="935.9" y="64.4" width="12.2" height="8.4" stroke="none" stroke-width="0" fill="#000"/>
<text x="942.0" y="72.1" font-size="10" fill="#fff" text-anchor="middle" stroke="#fff" stroke-width="0.3">70</text>
<rect x="935.9" y="401.1" width="12.2" height="8.4" stroke="none" stroke-width="0" fill="#000"/>
<text x="942.0" y="408.8" font-size="10" fill="#fff" text-anchor="middle" stroke="#fff" stroke-width="0.3">70</text>
<rect x="935.9" y="40.3" width="12.2" height="8.4" stroke="none" stroke-width="0" fill="#000"/>
<text x="942.0" y="48.0" font-size="10" fill="#fff" text-anchor="middle" stroke="#fff" stroke-width="0.3">80</text>
<rect x="935.9" y="425.1" width="12.2" height="8.4" stroke="none" stroke-width="0" fill="#000"/>
<text x="942.0" y="432.8" font-size="10" fill="#fff" text-anchor="middle" stroke="#fff" stroke-width="0.3">80</text>
<rect x="951.1" y="242.5" width="12.2" height="8.4" stroke="none" stroke-width="0" fill="#000"/>
<text x="957.2" y="250.2" font-size="10" fill="#fff" text-anchor="middle" stroke="#fff" stroke-width="0.3">10</text>
<rect x="901.9" y="242.5" width="12.2" height="8.4" stroke="none" stroke-width="0" fill="#000"/>
<text x="908.0" y="250.2" font-size="10" fill="#fff" text-anchor="middle" stroke="#fff" stroke-width="0.3">10</text>
<rect x="975.2" y="242.5" width="12.2" height="8.4" stroke="none" stroke-width="0" fill="#000"/>
<text x="981.3" y="250.2" font-size="10" fill="#fff" text-anchor="middle" stroke="#fff" stroke-width="0.3">20</text>
<rect x="877.8" y="242.5" width="12.2" height="8.4" stroke="none" stroke-width="0" fill="#000"/>
<text x="883.9" y="250.2" font-size="10" fill="#fff" text-anchor="middle" stroke="#fff" stroke-width="0.3">20</text>
<rect x="999.2" y="242.5" width="12.2" height="8.4" stroke="none" stroke-width="0" fill="#000"/>
<text x="1005.4" y="250.2" font-size="10" fill="#fff" text-anchor="middle" stroke="#fff" stroke-width="0.3">30</text>
<rect x="853.8" y="242.5" width="12.2" height="8.4" stroke="none" stroke-width="0" fill="#000"/>
<text x="859.9" y="250.2" font-size="10" fill="#fff" text-anchor="middle" stroke="#fff" stroke-width="0.3">30</text>
<rect x="1023.3" y="242.5" width="12.2" height="8.4" stroke="none" stroke-width="0" fill="#000"/>
<text x="1029.4" y="250.2" font-size="10" fill="#fff" text-anchor="middle" stroke="#fff" stroke-width="0.3">40</text>
<rect x="829.7" y="242.5" width="12.2" height="8.4" stroke="none" stroke-width="0" fill="#000"/>
<text x="835.8" y="250.2" font-size="10" fill="#fff" text-anchor="middle" stroke="#fff" stroke-width="0.3">40</text>
<rect x="1047.4" y="242.5" width="12.2" height="8.4" stroke="none" stroke-width="0" fill="#000"/>
<text x="1053.5" y="250.2" font-size="10" fill="#fff" text-anchor="middle" stroke="#fff" stroke-width="0.3">50</text>
<rect x="805.6" y="242.5" width="12.2" height="8.4" stroke="none" stroke-width="0" fill="#000"/>
<text x="811.8" y="250.2" font-size="10" fill="#fff" text-anchor="middle" stroke="#fff" stroke-width="0.3">50</text>
<rect x="1071.4" y="242.5" width="12.2" height="8.4" stroke="none" stroke-width="0" fill="#000"/>
<text x="1077.5" y="250.2" font-size="10" fill="#fff" text-anchor="middle" stroke="#fff" stroke-width="0.3">60</text>
<rect x="781.6" y="242.5" width="12.2" height="8.4" stroke="none" stroke-width="0" fill="#000"/>
<text x="787.7" y="250.2" font-size="10" fill="#fff" text-anchor="middle" stroke="#fff" stroke-width="0.3">60</text>
<rect x="1095.5" y="242.5" width="12.2" height="8.4" stroke="none" stroke-width="0" fill="#000"/>
<text x="1101.5" y="250.2" font-size="10" fill="#fff" text-anchor="middle" stroke="#fff" stroke-width="0.3">70</text>
<rect x="757.5" y="242.5" width="12.2" height="8.4" stroke="none" stroke-width="0" fill="#000"/>
<text x="763.6" y="250.2" font-size="10" fill="#fff" text-anchor="middle" stroke="#fff" stroke-width="0.3">70</text>
<rect x="1119.5" y="242.5" width="12.2" height="8.4" stroke="none" stroke-width="0" fill="#000"/>
<text x="1125.6" y="250.2" font-size="10" fill="#fff" text-anchor="middle" stroke="#fff" stroke-width="0.3">80</text>
<rect x="733.5" y="242.5" width="12.2" height="8.4" stroke="none" stroke-width="0" fill="#000"/>
<text x="739.6" y="250.2" font-size="10" fill="#fff" text-anchor="middle" stroke="#fff" stroke-width="0.3">80</text>
<rect x="1143.6" y="242.5" width="12.2" height="8.4" stroke="none" stroke-width="0" fill="#000"/>
<text x="1149.7" y="250.2" font-size="10" fill="#fff" text-anchor="middle" stroke="#fff" stroke-width="0.3">90</text>
<rect x="709.4" y="242.5" width="12.2" height="8.4" stroke="none" stroke-width="0" fill="#000"/>
<text x="715.5" y="250.2" font-size="10" fill="#fff" text-anchor="middle" stroke="#fff" stroke-width="0.3">90</text>
<rect x="1164.8" y="242.5" width="17.8" height="8.4" stroke="none" stroke-width="0" fill="#000"/>
<text x="1173.7" y="250.2" font-size="10" fill="#fff" text-anchor="middle" stroke="#fff" stroke-width="0.3">100</text>
<rect x="682.6" y="242.5" width="17.8" height="8.4" stroke="none" stroke-width="0" fill="#000"/>
<text x="691.5" y="250.2" font-size="10" fill="#fff" text-anchor="middle" stroke="#fff" stroke-width="0.3">100</text>
</g>
<line x1="901.3" y1="217.9" x2="943.1" y2="147.5" stroke="#00e0e0" stroke-width="1"/>
<line x1="943.1" y1="147.5" x2="896.6" y2="111.9" stroke="#00e0e0" stroke-width="1"/>
<line x1="901.3" y1="217.9" x2="867.9" y2="166.7" stroke="#e000e0" stroke-width="1"/>
<path d="M900.9 216.6 L879.7 197.3 L869.0 174.8 L868.4 152.2 L880.3 139.7 L885.7 142.3 L891.0 144.7 L893.8 141.0 L892.3 129.2 L891.5 125.4 L891.0 115.7 L897.5 111.0 L903.5 105.0 L912.7 104.8" stroke="#ff0000" stroke-width="2.6" fill="none" stroke-linejoin="round" stroke-linecap="round"/>
<path d="M912.7 104.8 L924.7 107.8 L938.3 112.0 L947.2 114.5 L952.9 111.0 L960.0 104.4 L966.9 101.2" stroke="#00ff00" stroke-width="2.6" fill="none" stroke-linejoin="round" stroke-linecap="round"/>
<path d="M966.9 101.2 L974.5 85.3 L978.9 84.0 L985.9 89.1 L985.9 92.9 L982.8 95.1" stroke="#ffff00" stroke-width="2.6" fill="none" stroke-linejoin="round" stroke-linecap="round"/>
<path d="M983.4 96.1 L993.6 110.1 L1003.7 110.7 L1014.5 105.0 L1021.5 78.0" stroke="#00f0f0" stroke-width="2.6" fill="none" stroke-linejoin="round" stroke-linecap="round"/>
<circle cx="901.3" cy="217.9" r="4.6" stroke="none" stroke-width="0" fill="#c8c8c8"/>
<text x="901.3" y="220.8" font-size="8" fill="#000" text-anchor="middle" stroke="#000" stroke-width="0.2">0</text>
<circle cx="885.7" cy="142.3" r="4.6" stroke="none" stroke-width="0" fill="#c8c8c8"/>
<text x="885.7" y="145.2" font-size="8" fill="#000" text-anchor="middle" stroke="#000" stroke-width="0.2">1</text>
<circle cx="891.5" cy="125.4" r="4.6" stroke="none" stroke-width="0" fill="#c8c8c8"/>
<text x="891.5" y="128.3" font-size="8" fill="#000" text-anchor="middle" stroke="#000" stroke-width="0.2">2</text>
<circle cx="912.7" cy="104.8" r="4.6" stroke="none" stroke-width="0" fill="#c8c8c8"/>
<text x="912.7" y="107.7" font-size="8" fill="#000" text-anchor="middle" stroke="#000" stroke-width="0.2">3</text>
<circle cx="938.3" cy="112.0" r="4.6" stroke="none" stroke-width="0" fill="#c8c8c8"/>
<text x="938.3" y="114.9" font-size="8" fill="#000" text-anchor="middle" stroke="#000" stroke-width="0.2">4</text>
<circle cx="952.9" cy="111.0" r="4.6" stroke="none" stroke-width="0" fill="#c8c8c8"/>
<text x="952.9" y="113.9" font-size="8" fill="#000" text-anchor="middle" stroke="#000" stroke-width="0.2">5</text>
<circle cx="966.9" cy="101.2" r="4.6" stroke="none" stroke-width="0" fill="#c8c8c8"/>
<text x="966.9" y="104.1" font-size="8" fill="#000" text-anchor="middle" stroke="#000" stroke-width="0.2">6</text>
<circle cx="885.3" cy="108.1" r="5.0" stroke="#fff" stroke-width="1" fill="none"/>
<circle cx="943.1" cy="147.5" r="5.0" stroke="#fff" stroke-width="1" fill="none"/>
<text x="891.0" y="122.0" font-size="9.5" fill="#fff" textLength="47.8" lengthAdjust="spacingAndGlyphs" stroke="#fff" stroke-width="0.28">161/55 LM</text>
<text x="947.3" y="161.8" font-size="9.5" fill="#fff" textLength="51.4" lengthAdjust="spacingAndGlyphs" stroke="#fff" stroke-width="0.28">189/36 RM</text>
<rect x="917.6" y="126.7" width="8.6" height="8.6" stroke="#c08a10" stroke-width="2" fill="none"/>
<text x="927.5" y="137.8" font-size="9.5" fill="#c08a10" textLength="32.5" lengthAdjust="spacingAndGlyphs" stroke="#c08a10" stroke-width="0.28">176/46</text>
<circle cx="1000.5" cy="51.0" r="2.7" stroke="#10a8e8" stroke-width="1.2" fill="none"/>
<text x="1005.9" y="62.0" font-size="9.5" fill="#10a8e8" textLength="52.5" lengthAdjust="spacingAndGlyphs" stroke="#10a8e8" stroke-width="0.28">DN=201/82</text>
<circle cx="989.1" cy="178.1" r="2.7" stroke="#10a8e8" stroke-width="1.2" fill="none"/>
<text x="994.8" y="189.2" font-size="9.5" fill="#10a8e8" textLength="51.5" lengthAdjust="spacingAndGlyphs" stroke="#10a8e8" stroke-width="0.28">UP=227/34</text>
<text x="705.4" y="416.0" font-size="13" fill="#00f4f4" textLength="101.7" lengthAdjust="spacingAndGlyphs" stroke="#00f4f4" stroke-width="0.3">Critical Angle = 63</text>
<line x1="690.0" y1="28.0" x2="690.0" y2="441.0" stroke="#fff" stroke-width="2"/>
<line x1="690.0" y1="29.4" x2="1171.0" y2="29.4" stroke="#fff" stroke-width="1.2"/>
<line x1="690.0" y1="440.0" x2="1171.0" y2="440.0" stroke="#fff" stroke-width="2"/>
<line x1="1170.6" y1="28.0" x2="1170.6" y2="441.0" stroke="#fff" stroke-width="1.1"/>
<defs><clipPath id="slclip"><rect x="691" y="441" width="118" height="132"/></clipPath></defs>
<g clip-path="url(#slclip)">
<line x1="750.0" y1="441.0" x2="750.0" y2="573.0" stroke="#0b4280" stroke-width="1.8"/>
<line x1="691.0" y1="506.9" x2="809.0" y2="506.9" stroke="#0b4280" stroke-width="1.8"/>
<circle cx="750.6" cy="506.9" r="4.6" stroke="#f00000" stroke-width="0.7" fill="none"/>
<circle cx="747.7" cy="507.4" r="4.6" stroke="#f00000" stroke-width="0.7" fill="none"/>
<circle cx="744.8" cy="507.8" r="4.6" stroke="#f00000" stroke-width="0.7" fill="none"/>
<circle cx="741.8" cy="508.1" r="4.6" stroke="#f00000" stroke-width="0.7" fill="none"/>
<circle cx="738.9" cy="508.4" r="4.6" stroke="#f00000" stroke-width="0.7" fill="none"/>
<circle cx="735.9" cy="508.4" r="4.6" stroke="#f00000" stroke-width="0.7" fill="none"/>
<circle cx="733.0" cy="508.3" r="4.6" stroke="#f00000" stroke-width="0.7" fill="none"/>
<circle cx="730.0" cy="508.0" r="4.6" stroke="#f00000" stroke-width="0.7" fill="none"/>
<circle cx="727.1" cy="507.6" r="4.6" stroke="#f00000" stroke-width="0.7" fill="none"/>
<circle cx="724.2" cy="507.2" r="4.6" stroke="#f00000" stroke-width="0.7" fill="none"/>
<circle cx="721.3" cy="506.5" r="4.6" stroke="#f00000" stroke-width="0.7" fill="none"/>
<circle cx="718.5" cy="505.5" r="4.6" stroke="#f00000" stroke-width="0.7" fill="none"/>
<circle cx="715.7" cy="504.4" r="4.6" stroke="#f00000" stroke-width="0.7" fill="none"/>
<circle cx="713.1" cy="503.1" r="4.6" stroke="#f00000" stroke-width="0.7" fill="none"/>
<circle cx="711.4" cy="501.8" r="4.6" stroke="#00f000" stroke-width="0.7" fill="none"/>
<circle cx="709.2" cy="499.9" r="4.6" stroke="#00f000" stroke-width="0.7" fill="none"/>
<circle cx="707.7" cy="497.4" r="4.6" stroke="#00f000" stroke-width="0.7" fill="none"/>
<circle cx="706.4" cy="494.8" r="4.6" stroke="#00f000" stroke-width="0.7" fill="none"/>
<circle cx="705.7" cy="491.9" r="4.6" stroke="#00f000" stroke-width="0.7" fill="none"/>
<circle cx="705.4" cy="489.0" r="4.6" stroke="#00f000" stroke-width="0.7" fill="none"/>
<circle cx="705.5" cy="486.1" r="4.6" stroke="#00f000" stroke-width="0.7" fill="none"/>
<circle cx="706.4" cy="483.3" r="4.6" stroke="#00f000" stroke-width="0.7" fill="none"/>
<circle cx="707.5" cy="480.6" r="4.6" stroke="#00f000" stroke-width="0.7" fill="none"/>
<circle cx="708.5" cy="478.5" r="4.6" stroke="#f0f000" stroke-width="0.7" fill="none"/>
<circle cx="710.0" cy="476.4" r="4.6" stroke="#f0f000" stroke-width="0.7" fill="none"/>
<circle cx="711.5" cy="474.3" r="4.6" stroke="#f0f000" stroke-width="0.7" fill="none"/>
<circle cx="713.1" cy="472.2" r="4.6" stroke="#f0f000" stroke-width="0.7" fill="none"/>
<circle cx="714.5" cy="470.5" r="4.6" stroke="#00e8e8" stroke-width="0.7" fill="none"/>
<circle cx="716.1" cy="469.1" r="4.6" stroke="#00e8e8" stroke-width="0.7" fill="none"/>
<circle cx="717.9" cy="467.8" r="4.6" stroke="#00e8e8" stroke-width="0.7" fill="none"/>
<circle cx="719.7" cy="466.6" r="4.6" stroke="#00e8e8" stroke-width="0.7" fill="none"/>
<circle cx="729.3" cy="460.0" r="5.0" stroke="#e000e0" stroke-width="1.2" fill="none"/>
<line x1="749.7" y1="506.9" x2="754.4" y2="476.0" stroke="#fff" stroke-width="1.8"/>
</g>
<text x="805.0" y="451.8" font-size="10" fill="#fff" text-anchor="end" textLength="38.4" lengthAdjust="spacingAndGlyphs" stroke="#fff" stroke-width="0.35">69.0 deg</text>
<text x="695.3" y="570.6" font-size="10" fill="#fff" textLength="57.2" lengthAdjust="spacingAndGlyphs" stroke="#fff" stroke-width="0.35">Storm Slinky</text>
<rect x="690.0" y="440.0" width="120.0" height="134.0" stroke="#fff" stroke-width="2" fill="none"/>
<rect x="810.0" y="440.0" width="121.0" height="134.0" stroke="#fff" stroke-width="2" fill="none"/>
<line x1="811.0" y1="460.9" x2="816.5" y2="460.9" stroke="#fff" stroke-width="2"/>
<text x="821.0" y="464.5" font-size="10" fill="#fff" textLength="17.0" lengthAdjust="spacingAndGlyphs" stroke="#fff" stroke-width="0.35">600</text>
<line x1="811.0" y1="489.2" x2="816.5" y2="489.2" stroke="#fff" stroke-width="2"/>
<text x="821.0" y="492.8" font-size="10" fill="#fff" textLength="17.0" lengthAdjust="spacingAndGlyphs" stroke="#fff" stroke-width="0.35">700</text>
<line x1="811.0" y1="517.1" x2="816.5" y2="517.1" stroke="#fff" stroke-width="2"/>
<text x="821.0" y="520.7" font-size="10" fill="#fff" textLength="17.0" lengthAdjust="spacingAndGlyphs" stroke="#fff" stroke-width="0.35">800</text>
<line x1="811.0" y1="546.2" x2="816.5" y2="546.2" stroke="#fff" stroke-width="2"/>
<text x="821.0" y="549.8" font-size="10" fill="#fff" textLength="17.0" lengthAdjust="spacingAndGlyphs" stroke="#fff" stroke-width="0.35">900</text>
<line x1="819.0" y1="568.5" x2="819.0" y2="573.0" stroke="#fff" stroke-width="2"/>
<text x="819.0" y="567.6" font-size="10" fill="#fff" text-anchor="middle" textLength="17.0" lengthAdjust="spacingAndGlyphs" stroke="#fff" stroke-width="0.35">320</text>
<line x1="865.0" y1="568.5" x2="865.0" y2="573.0" stroke="#fff" stroke-width="2"/>
<text x="865.0" y="567.6" font-size="10" fill="#fff" text-anchor="middle" textLength="17.0" lengthAdjust="spacingAndGlyphs" stroke="#fff" stroke-width="0.35">330</text>
<line x1="911.9" y1="568.5" x2="911.9" y2="573.0" stroke="#fff" stroke-width="2"/>
<text x="911.9" y="567.6" font-size="10" fill="#fff" text-anchor="middle" textLength="17.0" lengthAdjust="spacingAndGlyphs" stroke="#fff" stroke-width="0.35">340</text>
<defs><clipPath id="teclip"><rect x="811" y="441" width="118.5" height="132.5"/></clipPath></defs>
<g clip-path="url(#teclip)">
<path d="M872.5 446.5 L867.8 460.9 L856.9 475.0 L885.6 489.6 L868.8 496.2 L885.3 503.1 L876.3 510.6 L886.0 517.2 L884.7 524.7 L889.4 540.6 L892.8 546.3 L893.1 551.9 L895.9 559.4 L897.3 574.4" stroke="#ff0000" stroke-width="2.4" fill="none" stroke-linejoin="round"/>
</g>
<rect x="931.0" y="440.0" width="120.0" height="134.0" stroke="#fff" stroke-width="2" fill="none"/>
<line x1="932.0" y1="454.0" x2="937.0" y2="454.0" stroke="#909090" stroke-width="2"/>
<line x1="1045.0" y1="454.0" x2="1050.0" y2="454.0" stroke="#909090" stroke-width="2"/>
<text x="945.6" y="457.4" font-size="9.5" fill="#fff" text-anchor="middle" stroke="#fff" stroke-width="0.2">14</text>
<line x1="932.0" y1="471.0" x2="937.0" y2="471.0" stroke="#909090" stroke-width="2"/>
<line x1="1045.0" y1="471.0" x2="1050.0" y2="471.0" stroke="#909090" stroke-width="2"/>
<text x="945.6" y="474.1" font-size="9.5" fill="#fff" text-anchor="middle" stroke="#fff" stroke-width="0.2">12</text>
<line x1="932.0" y1="488.0" x2="937.0" y2="488.0" stroke="#909090" stroke-width="2"/>
<line x1="1045.0" y1="488.0" x2="1050.0" y2="488.0" stroke="#909090" stroke-width="2"/>
<text x="945.6" y="491.0" font-size="9.5" fill="#fff" text-anchor="middle" stroke="#fff" stroke-width="0.2">10</text>
<line x1="932.0" y1="504.0" x2="937.0" y2="504.0" stroke="#909090" stroke-width="2"/>
<line x1="1045.0" y1="504.0" x2="1050.0" y2="504.0" stroke="#909090" stroke-width="2"/>
<text x="945.6" y="507.8" font-size="9.5" fill="#fff" text-anchor="middle" stroke="#fff" stroke-width="0.2">8</text>
<line x1="932.0" y1="521.0" x2="937.0" y2="521.0" stroke="#909090" stroke-width="2"/>
<line x1="1045.0" y1="521.0" x2="1050.0" y2="521.0" stroke="#909090" stroke-width="2"/>
<text x="945.6" y="524.4" font-size="9.5" fill="#fff" text-anchor="middle" stroke="#fff" stroke-width="0.2">6</text>
<line x1="932.0" y1="538.0" x2="937.0" y2="538.0" stroke="#909090" stroke-width="2"/>
<line x1="1045.0" y1="538.0" x2="1050.0" y2="538.0" stroke="#909090" stroke-width="2"/>
<text x="945.6" y="541.2" font-size="9.5" fill="#fff" text-anchor="middle" stroke="#fff" stroke-width="0.2">4</text>
<line x1="932.0" y1="555.0" x2="937.0" y2="555.0" stroke="#909090" stroke-width="2"/>
<line x1="1045.0" y1="555.0" x2="1050.0" y2="555.0" stroke="#909090" stroke-width="2"/>
<text x="945.6" y="558.1" font-size="9.5" fill="#fff" text-anchor="middle" stroke="#fff" stroke-width="0.2">2</text>
<line x1="947.0" y1="441.0" x2="947.0" y2="445.0" stroke="#909090" stroke-width="2"/>
<line x1="947.0" y1="569.0" x2="947.0" y2="573.0" stroke="#909090" stroke-width="2"/>
<line x1="964.0" y1="441.0" x2="964.0" y2="445.0" stroke="#909090" stroke-width="2"/>
<line x1="964.0" y1="569.0" x2="964.0" y2="573.0" stroke="#909090" stroke-width="2"/>
<line x1="981.0" y1="441.0" x2="981.0" y2="445.0" stroke="#909090" stroke-width="2"/>
<line x1="981.0" y1="569.0" x2="981.0" y2="573.0" stroke="#909090" stroke-width="2"/>
<line x1="997.0" y1="441.0" x2="997.0" y2="445.0" stroke="#909090" stroke-width="2"/>
<line x1="997.0" y1="569.0" x2="997.0" y2="573.0" stroke="#909090" stroke-width="2"/>
<line x1="1014.0" y1="441.0" x2="1014.0" y2="445.0" stroke="#909090" stroke-width="2"/>
<line x1="1014.0" y1="569.0" x2="1014.0" y2="573.0" stroke="#909090" stroke-width="2"/>
<line x1="1031.0" y1="441.0" x2="1031.0" y2="445.0" stroke="#909090" stroke-width="2"/>
<line x1="1031.0" y1="569.0" x2="1031.0" y2="573.0" stroke="#909090" stroke-width="2"/>
<line x1="1048.0" y1="441.0" x2="1048.0" y2="445.0" stroke="#909090" stroke-width="2"/>
<line x1="1048.0" y1="569.0" x2="1048.0" y2="573.0" stroke="#909090" stroke-width="2"/>
<line x1="956.0" y1="441.0" x2="956.0" y2="573.0" stroke="#b0b0b0" stroke-width="1.8" stroke-dasharray="4 3"/>
<line x1="998.0" y1="441.0" x2="998.0" y2="505.0" stroke="#800080" stroke-width="2" stroke-dasharray="4 3"/>
<line x1="1048.0" y1="441.0" x2="1048.0" y2="505.0" stroke="#800080" stroke-width="2" stroke-dasharray="4 3"/>
<text x="1018.2" y="465.2" font-size="8" fill="#9a129a" text-anchor="middle" stroke="#9a129a" stroke-width="0.2">Classic</text>
<text x="1018.2" y="474.2" font-size="8" fill="#9a129a" text-anchor="middle" stroke="#9a129a" stroke-width="0.2">Supercell</text>
<text x="968.3" y="456.2" font-size="8" fill="#fff" text-anchor="middle" textLength="27.8" lengthAdjust="spacingAndGlyphs" stroke="#fff" stroke-width="0.25">SR Wind</text>
<text x="968.3" y="465.3" font-size="8" fill="#fff" text-anchor="middle" stroke="#fff" stroke-width="0.25">v.</text>
<text x="968.3" y="473.8" font-size="8" fill="#fff" text-anchor="middle" textLength="22.5" lengthAdjust="spacingAndGlyphs" stroke="#fff" stroke-width="0.25">Height</text>
<defs><clipPath id="srclip"><rect x="931.5" y="441" width="120.5" height="132"/></clipPath></defs>
<g clip-path="url(#srclip)">
<path d="M964.4 440.9 L955.9 446.9 L1045.0 455.3 L1050.3 460.9 L1047.8 464.7 L1018.8 468.4 L1000.0 472.2 L985.0 478.8 L976.6 485.3 L974.1 490.0 L975.6 496.6 L980.3 504.1 L980.9 509.7 L975.6 515.3 L965.3 520.0 L958.8 526.6 L952.8 532.8 L956.9 539.1 L970.0 548.1 L973.4 553.8 L966.3 556.6 L964.8 559.8 L970.0 562.2 L984.1 565.4 L988.4 572.1" stroke="#ff0000" stroke-width="2.4" fill="none" stroke-linejoin="round"/>
</g>
<line x1="976.0" y1="478.4" x2="976.0" y2="496.6" stroke="#9020f0" stroke-width="2"/>
<line x1="957.3" y1="520.4" x2="957.3" y2="538.4" stroke="#5a96f0" stroke-width="2"/>
<line x1="971.9" y1="553.8" x2="971.9" y2="573.0" stroke="#8b0000" stroke-width="2"/>
<line x1="1051.0" y1="440.0" x2="1051.0" y2="575.0" stroke="#fff" stroke-width="2"/>
<line x1="1051.0" y1="574.0" x2="1171.0" y2="574.0" stroke="#fff" stroke-width="2"/>
<line x1="1170.6" y1="440.0" x2="1170.6" y2="575.0" stroke="#fff" stroke-width="1.1"/>
<line x1="1052.0" y1="464.5" x2="1170.0" y2="464.5" stroke="#fff" stroke-width="1.2"/>
<text x="1111.0" y="457.9" font-size="13" fill="#fff" text-anchor="middle" textLength="92.6" lengthAdjust="spacingAndGlyphs" stroke="#fff" stroke-width="0.4">Psbl Haz. Type</text>
<text x="1111.0" y="519.7" font-size="13" fill="#ff0000" text-anchor="middle" textLength="27.0" lengthAdjust="spacingAndGlyphs" stroke="#ff0000" stroke-width="0.4">TOR</text>
<rect x="10.5" y="597.5" width="1159.0" height="192.0" stroke="#38a0d8" stroke-width="3" fill="none"/>
<line x1="301.0" y1="597.5" x2="301.0" y2="789.5" stroke="#38a0d8" stroke-width="2"/>
<line x1="590.0" y1="597.5" x2="590.0" y2="789.5" stroke="#38a0d8" stroke-width="2"/>
<line x1="880.0" y1="597.5" x2="880.0" y2="789.5" stroke="#38a0d8" stroke-width="2"/>
<text x="48.0" y="608.8" font-size="10.5" fill="#fff" text-anchor="middle" stroke="#fff" stroke-width="0.35">PCL</text>
<text x="84.0" y="608.8" font-size="10.5" fill="#fff" text-anchor="middle" stroke="#fff" stroke-width="0.35">CAPE</text>
<text x="120.0" y="608.8" font-size="10.5" fill="#fff" text-anchor="middle" stroke="#fff" stroke-width="0.35">CINH</text>
<text x="156.0" y="608.8" font-size="10.5" fill="#fff" text-anchor="middle" stroke="#fff" stroke-width="0.35">LCL</text>
<text x="192.0" y="608.8" font-size="10.5" fill="#fff" text-anchor="middle" stroke="#fff" stroke-width="0.35">LI</text>
<text x="228.0" y="608.8" font-size="10.5" fill="#fff" text-anchor="middle" stroke="#fff" stroke-width="0.35">LFC</text>
<text x="264.0" y="608.8" font-size="10.5" fill="#fff" text-anchor="middle" stroke="#fff" stroke-width="0.35">EL</text>
<line x1="12.0" y1="610.5" x2="300.0" y2="610.5" stroke="#fff" stroke-width="1"/>
<text x="48.0" y="623.5" font-size="10.5" fill="#fff" text-anchor="middle" stroke="#fff" stroke-width="0.35">SFC</text>
<text x="84.0" y="623.5" font-size="10.5" fill="#fff" text-anchor="middle" stroke="#fff" stroke-width="0.35">939</text>
<text x="120.0" y="623.5" font-size="10.5" fill="#fff" text-anchor="middle" stroke="#fff" stroke-width="0.35">-1</text>
<text x="156.0" y="623.5" font-size="10.5" fill="#fff" text-anchor="middle" stroke="#fff" stroke-width="0.35">43</text>
<text x="192.0" y="623.5" font-size="10.5" fill="#fff" text-anchor="middle" stroke="#fff" stroke-width="0.35">-2</text>
<text x="228.0" y="623.5" font-size="10.5" fill="#fff" text-anchor="middle" stroke="#fff" stroke-width="0.35">467</text>
<text x="264.0" y="623.5" font-size="10.5" fill="#fff" text-anchor="middle" stroke="#fff" stroke-width="0.35">12801</text>
<text x="48.0" y="634.5" font-size="10.5" fill="#fff" text-anchor="middle" stroke="#fff" stroke-width="0.35">ML</text>
<text x="84.0" y="634.5" font-size="10.5" fill="#fff" text-anchor="middle" stroke="#fff" stroke-width="0.35">852</text>
<text x="120.0" y="634.5" font-size="10.5" fill="#fff" text-anchor="middle" stroke="#fff" stroke-width="0.35">0</text>
<text x="156.0" y="634.5" font-size="10.5" fill="#fff" text-anchor="middle" stroke="#fff" stroke-width="0.35">534</text>
<text x="192.0" y="634.5" font-size="10.5" fill="#fff" text-anchor="middle" stroke="#fff" stroke-width="0.35">-1</text>
<text x="228.0" y="634.5" font-size="10.5" fill="#fff" text-anchor="middle" stroke="#fff" stroke-width="0.35">580</text>
<text x="264.0" y="634.5" font-size="10.5" fill="#fff" text-anchor="middle" stroke="#fff" stroke-width="0.35">12801</text>
<text x="48.0" y="645.5" font-size="10.5" fill="#fff" text-anchor="middle" stroke="#fff" stroke-width="0.35">FCST</text>
<text x="84.0" y="645.5" font-size="10.5" fill="#fff" text-anchor="middle" stroke="#fff" stroke-width="0.35">1969</text>
<text x="120.0" y="645.5" font-size="10.5" fill="#fff" text-anchor="middle" stroke="#fff" stroke-width="0.35">0</text>
<text x="156.0" y="645.5" font-size="10.5" fill="#fff" text-anchor="middle" stroke="#fff" stroke-width="0.35">1019</text>
<text x="192.0" y="645.5" font-size="10.5" fill="#fff" text-anchor="middle" stroke="#fff" stroke-width="0.35">-4</text>
<text x="228.0" y="645.5" font-size="10.5" fill="#fff" text-anchor="middle" stroke="#fff" stroke-width="0.35">1019</text>
<text x="264.0" y="645.5" font-size="10.5" fill="#fff" text-anchor="middle" stroke="#fff" stroke-width="0.35">12801</text>
<text x="48.0" y="656.5" font-size="10.5" fill="#00f0f0" text-anchor="middle" stroke="#00f0f0" stroke-width="0.35">MU</text>
<text x="84.0" y="656.5" font-size="10.5" fill="#fff" text-anchor="middle" stroke="#fff" stroke-width="0.35">939</text>
<text x="120.0" y="656.5" font-size="10.5" fill="#00e000" text-anchor="middle" stroke="#00e000" stroke-width="0.35">-1</text>
<text x="156.0" y="656.5" font-size="10.5" fill="#fff" text-anchor="middle" stroke="#fff" stroke-width="0.35">43</text>
<text x="192.0" y="656.5" font-size="10.5" fill="#fff" text-anchor="middle" stroke="#fff" stroke-width="0.35">-2</text>
<text x="228.0" y="656.5" font-size="10.5" fill="#fff" text-anchor="middle" stroke="#fff" stroke-width="0.35">467</text>
<text x="264.0" y="656.5" font-size="10.5" fill="#fff" text-anchor="middle" stroke="#fff" stroke-width="0.35">12801</text>
<rect x="14.5" y="647.5" width="284.0" height="12.0" stroke="#60401c" stroke-width="1" fill="none"/>
<line x1="12.0" y1="661.5" x2="300.0" y2="661.5" stroke="#fff" stroke-width="1"/>
<text x="17.5" y="673.7" font-size="10.5" fill="#fff" textLength="58.5" lengthAdjust="spacingAndGlyphs" stroke="#fff" stroke-width="0.35">PW = 1.82in</text>
<text x="113.4" y="673.7" font-size="10.5" fill="#fff" textLength="31.0" lengthAdjust="spacingAndGlyphs" stroke="#fff" stroke-width="0.35">K = 34</text>
<text x="186.7" y="673.7" font-size="10.5" fill="#fff" textLength="58.5" lengthAdjust="spacingAndGlyphs" stroke="#fff" stroke-width="0.35">WNDG = 0.0</text>
<text x="17.5" y="684.7" font-size="10.5" fill="#fff" textLength="92.5" lengthAdjust="spacingAndGlyphs" stroke="#fff" stroke-width="0.35">MeanW = 13.5g/kg</text>
<text x="113.4" y="684.7" font-size="10.5" fill="#fff" textLength="37.5" lengthAdjust="spacingAndGlyphs" stroke="#fff" stroke-width="0.35">TT = 46</text>
<text x="186.7" y="684.7" font-size="10.5" fill="#fff" textLength="33.0" lengthAdjust="spacingAndGlyphs" stroke="#fff" stroke-width="0.35">TEI = 9</text>
<text x="17.5" y="695.7" font-size="10.5" fill="#fff" textLength="66.5" lengthAdjust="spacingAndGlyphs" stroke="#fff" stroke-width="0.35">LowRH = 99%</text>
<text x="113.4" y="695.7" font-size="10.5" fill="#fff" textLength="61.0" lengthAdjust="spacingAndGlyphs" stroke="#fff" stroke-width="0.35">ConvT = 72F</text>
<text x="186.7" y="695.7" font-size="10.5" fill="#fff" textLength="56.0" lengthAdjust="spacingAndGlyphs" stroke="#fff" stroke-width="0.35">3CAPE = 61</text>
<text x="17.5" y="706.7" font-size="10.5" fill="#fff" textLength="65.5" lengthAdjust="spacingAndGlyphs" stroke="#fff" stroke-width="0.35">MidRH = 98%</text>
<text x="113.4" y="706.7" font-size="10.5" fill="#fff" textLength="58.5" lengthAdjust="spacingAndGlyphs" stroke="#fff" stroke-width="0.35">maxT = 79F</text>
<text x="17.5" y="717.7" font-size="10.5" fill="#fff" textLength="63.5" lengthAdjust="spacingAndGlyphs" stroke="#fff" stroke-width="0.35">DCAPE = 202</text>
<text x="113.4" y="717.7" font-size="10.5" fill="#fff" textLength="46.5" lengthAdjust="spacingAndGlyphs" stroke="#fff" stroke-width="0.35">ESP = 0.0</text>
<text x="17.5" y="728.7" font-size="10.5" fill="#fff" textLength="63.5" lengthAdjust="spacingAndGlyphs" stroke="#fff" stroke-width="0.35">DownT = 64F</text>
<text x="113.4" y="728.7" font-size="10.5" fill="#fff" textLength="60.0" lengthAdjust="spacingAndGlyphs" stroke="#fff" stroke-width="0.35">MMP = 0.85</text>
<text x="186.7" y="728.7" font-size="10.5" fill="#fff" textLength="108.0" lengthAdjust="spacingAndGlyphs" stroke="#fff" stroke-width="0.35">SigSvr = 24368 m3/s3</text>
<line x1="12.0" y1="732.5" x2="300.0" y2="732.5" stroke="#fff" stroke-width="1"/>
<line x1="210.5" y1="732.5" x2="210.5" y2="788.0" stroke="#fff" stroke-width="1"/>
<text x="17.5" y="745.0" font-size="10.5" fill="#fff" textLength="138.0" lengthAdjust="spacingAndGlyphs" stroke="#fff" stroke-width="0.35">Sfc-3km AGL LR = 5.1 C/km</text>
<text x="17.5" y="756.0" font-size="10.5" fill="#fff" textLength="127.0" lengthAdjust="spacingAndGlyphs" stroke="#fff" stroke-width="0.35">3-6km AGL LR = 6.4 C/km</text>
<text x="17.5" y="767.0" font-size="10.5" fill="#fff" textLength="128.0" lengthAdjust="spacingAndGlyphs" stroke="#fff" stroke-width="0.35">850-500mb LR = 5.8 C/km</text>
<text x="17.5" y="778.0" font-size="10.5" fill="#fff" textLength="128.0" lengthAdjust="spacingAndGlyphs" stroke="#fff" stroke-width="0.35">700-500mb LR = 6.5 C/km</text>
<text x="215.7" y="745.0" font-size="10.5" fill="#fff" textLength="73.5" lengthAdjust="spacingAndGlyphs" stroke="#fff" stroke-width="0.35">Supercell = 7.3</text>
<text x="215.7" y="756.0" font-size="10.5" fill="#ffff00" textLength="73.5" lengthAdjust="spacingAndGlyphs" stroke="#ffff00" stroke-width="0.35">STP (cin) = 2.2</text>
<text x="215.7" y="767.0" font-size="10.5" fill="#fff" textLength="70.0" lengthAdjust="spacingAndGlyphs" stroke="#fff" stroke-width="0.35">STP (fix) = 1.9</text>
<text x="215.7" y="778.0" font-size="10.5" fill="#8a5a10" textLength="51.5" lengthAdjust="spacingAndGlyphs" stroke="#8a5a10" stroke-width="0.35">SHIP = 0.4</text>
<text x="377.5" y="611.0" font-size="10.5" fill="#fff" text-anchor="middle" stroke="#fff" stroke-width="0.35">EHI</text>
<text x="417.0" y="611.0" font-size="10.5" fill="#fff" text-anchor="middle" stroke="#fff" stroke-width="0.35">SRH</text>
<text x="456.0" y="611.0" font-size="10.5" fill="#fff" text-anchor="middle" textLength="27.6" lengthAdjust="spacingAndGlyphs" stroke="#fff" stroke-width="0.35">Shear</text>
<text x="512.5" y="611.0" font-size="10.5" fill="#fff" text-anchor="middle" textLength="39.7" lengthAdjust="spacingAndGlyphs" stroke="#fff" stroke-width="0.35">MnWind</text>
<text x="563.0" y="611.0" font-size="10.5" fill="#fff" text-anchor="middle" stroke="#fff" stroke-width="0.35">SRW</text>
<line x1="302.0" y1="613.5" x2="589.0" y2="613.5" stroke="#fff" stroke-width="1"/>
<text x="307.6" y="625.0" font-size="10.5" fill="#fff" textLength="45.0" lengthAdjust="spacingAndGlyphs" stroke="#fff" stroke-width="0.35">SFC-1km</text>
<text x="385.7" y="625.0" font-size="10.5" fill="#fff" text-anchor="end" stroke="#fff" stroke-width="0.35">1.8</text>
<text x="427.8" y="625.0" font-size="10.5" fill="#fff" text-anchor="end" stroke="#fff" stroke-width="0.35">310</text>
<text x="469.7" y="625.0" font-size="10.5" fill="#fff" text-anchor="end" stroke="#fff" stroke-width="0.35">32</text>
<text x="492.6" y="625.0" font-size="10.5" fill="#fff" textLength="33.2" lengthAdjust="spacingAndGlyphs" stroke="#fff" stroke-width="0.35">140/34</text>
<text x="581.4" y="625.0" font-size="10.5" fill="#fff" text-anchor="end" stroke="#fff" stroke-width="0.35">69/29</text>
<text x="307.6" y="636.0" font-size="10.5" fill="#fff" textLength="45.0" lengthAdjust="spacingAndGlyphs" stroke="#fff" stroke-width="0.35">SFC-3km</text>
<text x="385.7" y="636.0" font-size="10.5" fill="#fff" text-anchor="end" stroke="#fff" stroke-width="0.35">2.5</text>
<text x="427.8" y="636.0" font-size="10.5" fill="#fff" text-anchor="end" stroke="#fff" stroke-width="0.35">433</text>
<text x="469.7" y="636.0" font-size="10.5" fill="#fff" text-anchor="end" stroke="#fff" stroke-width="0.35">47</text>
<text x="492.6" y="636.0" font-size="10.5" fill="#fff" textLength="33.2" lengthAdjust="spacingAndGlyphs" stroke="#fff" stroke-width="0.35">155/41</text>
<text x="581.4" y="636.0" font-size="10.5" fill="#fff" text-anchor="end" stroke="#fff" stroke-width="0.35">92/23</text>
<text x="307.6" y="647.0" font-size="10.5" fill="#fff" textLength="46.5" lengthAdjust="spacingAndGlyphs" stroke="#fff" stroke-width="0.35">Eff Inflow</text>
<text x="385.7" y="647.0" font-size="10.5" fill="#fff" text-anchor="end" stroke="#fff" stroke-width="0.35">2.3</text>
<text x="427.8" y="647.0" font-size="10.5" fill="#fff" text-anchor="end" stroke="#fff" stroke-width="0.35">390</text>
<text x="469.7" y="647.0" font-size="10.5" fill="#fff" text-anchor="end" stroke="#fff" stroke-width="0.35">44</text>
<text x="492.6" y="647.0" font-size="10.5" fill="#fff" textLength="33.2" lengthAdjust="spacingAndGlyphs" stroke="#fff" stroke-width="0.35">151/39</text>
<text x="581.4" y="647.0" font-size="10.5" fill="#fff" text-anchor="end" stroke="#fff" stroke-width="0.35">85/24</text>
<text x="307.6" y="663.0" font-size="10.5" fill="#fff" textLength="45.0" lengthAdjust="spacingAndGlyphs" stroke="#fff" stroke-width="0.35">SFC-6km</text>
<text x="469.7" y="663.0" font-size="10.5" fill="#fff" text-anchor="end" stroke="#fff" stroke-width="0.35">56</text>
<text x="492.6" y="663.0" font-size="10.5" fill="#fff" textLength="33.2" lengthAdjust="spacingAndGlyphs" stroke="#fff" stroke-width="0.35">167/43</text>
<text x="581.4" y="663.0" font-size="10.5" fill="#fff" text-anchor="end" stroke="#fff" stroke-width="0.35">111/17</text>
<text x="307.6" y="674.0" font-size="10.5" fill="#fff" textLength="45.0" lengthAdjust="spacingAndGlyphs" stroke="#fff" stroke-width="0.35">SFC-8km</text>
<text x="469.7" y="674.0" font-size="10.5" fill="#fff" text-anchor="end" stroke="#fff" stroke-width="0.35">64</text>
<text x="492.6" y="674.0" font-size="10.5" fill="#fff" textLength="33.2" lengthAdjust="spacingAndGlyphs" stroke="#fff" stroke-width="0.35">171/44</text>
<text x="581.4" y="674.0" font-size="10.5" fill="#fff" text-anchor="end" stroke="#fff" stroke-width="0.35">123/15</text>
<text x="307.6" y="685.0" font-size="10.5" fill="#fff" textLength="103.0" lengthAdjust="spacingAndGlyphs" stroke="#fff" stroke-width="0.35">LCL-EL (Cloud Layer)</text>
<text x="469.7" y="685.0" font-size="10.5" fill="#fff" text-anchor="end" stroke="#fff" stroke-width="0.35">107</text>
<text x="492.6" y="685.0" font-size="10.5" fill="#fff" textLength="33.2" lengthAdjust="spacingAndGlyphs" stroke="#fff" stroke-width="0.35">176/46</text>
<text x="581.4" y="685.0" font-size="10.5" fill="#fff" text-anchor="end" stroke="#fff" stroke-width="0.35">139/13</text>
<text x="307.6" y="696.0" font-size="10.5" fill="#fff" textLength="86.5" lengthAdjust="spacingAndGlyphs" stroke="#fff" stroke-width="0.35">Eff Shear (EBWD)</text>
<text x="469.7" y="696.0" font-size="10.5" fill="#fff" text-anchor="end" stroke="#fff" stroke-width="0.35">59</text>
<text x="492.6" y="696.0" font-size="10.5" fill="#fff" textLength="33.2" lengthAdjust="spacingAndGlyphs" stroke="#fff" stroke-width="0.35">168/43</text>
<text x="581.4" y="696.0" font-size="10.5" fill="#fff" text-anchor="end" stroke="#fff" stroke-width="0.35">113/16</text>
<text x="307.6" y="712.0" font-size="10.5" fill="#fff" textLength="62.5" lengthAdjust="spacingAndGlyphs" stroke="#fff" stroke-width="0.35">BRN Shear =</text>
<text x="469.7" y="712.0" font-size="10.5" fill="#fff" text-anchor="end" textLength="46.5" lengthAdjust="spacingAndGlyphs" stroke="#fff" stroke-width="0.35">96 m2/s2</text>
<text x="307.6" y="723.0" font-size="10.5" fill="#fff" textLength="85.5" lengthAdjust="spacingAndGlyphs" stroke="#fff" stroke-width="0.35">4-6km SR Wind =</text>
<text x="469.7" y="723.0" font-size="10.5" fill="#fff" text-anchor="end" textLength="46.5" lengthAdjust="spacingAndGlyphs" stroke="#fff" stroke-width="0.35">184/14 kt</text>
<text x="307.6" y="739.0" font-size="10.5" fill="#fff" textLength="128.0" lengthAdjust="spacingAndGlyphs" stroke="#fff" stroke-width="0.35">...Storm Motion Vectors...</text>
<text x="307.6" y="750.0" font-size="10.5" fill="#fff" textLength="78.5" lengthAdjust="spacingAndGlyphs" stroke="#fff" stroke-width="0.35">Bunkers Right =</text>
<text x="469.7" y="750.0" font-size="10.5" fill="#1a98dc" text-anchor="end" textLength="46.5" lengthAdjust="spacingAndGlyphs" stroke="#1a98dc" stroke-width="0.35">189/36 kt</text>
<text x="307.6" y="761.0" font-size="10.5" fill="#fff" textLength="72.5" lengthAdjust="spacingAndGlyphs" stroke="#fff" stroke-width="0.35">Bunkers Left =</text>
<text x="469.7" y="761.0" font-size="10.5" fill="#ff5050" text-anchor="end" textLength="46.5" lengthAdjust="spacingAndGlyphs" stroke="#ff5050" stroke-width="0.35">161/55 kt</text>
<text x="307.6" y="772.0" font-size="10.5" fill="#fff" textLength="98.5" lengthAdjust="spacingAndGlyphs" stroke="#fff" stroke-width="0.35">Corfidi Downshear =</text>
<text x="469.7" y="772.0" font-size="10.5" fill="#fff" text-anchor="end" textLength="46.5" lengthAdjust="spacingAndGlyphs" stroke="#fff" stroke-width="0.35">201/82 kt</text>
<text x="307.6" y="783.0" font-size="10.5" fill="#fff" textLength="84.5" lengthAdjust="spacingAndGlyphs" stroke="#fff" stroke-width="0.35">Corfidi Upshear =</text>
<text x="469.7" y="783.0" font-size="10.5" fill="#fff" text-anchor="end" textLength="46.5" lengthAdjust="spacingAndGlyphs" stroke="#fff" stroke-width="0.35">227/34 kt</text>
<text x="526.2" y="768.7" font-size="10.5" fill="#1a84d8" text-anchor="middle" textLength="78.8" lengthAdjust="spacingAndGlyphs" stroke="#1a84d8" stroke-width="0.35">1km &amp; 6km AGL</text>
<text x="526.2" y="781.3" font-size="10.5" fill="#1a84d8" text-anchor="middle" textLength="55.2" lengthAdjust="spacingAndGlyphs" stroke="#1a84d8" stroke-width="0.35">Wind Barbs</text>
<path d="M526.1 733.5 L537.3 756.5 M537.3 756.5 L527.2 761 M535.3 752.3 L525.5 757 M533.3 748.3 L523.6 752.9 M531.5 744.7 L522 749.4" stroke="#d00000" stroke-width="1" fill="none"/>
<path d="M526.1 733.5 L518.9 758.2 L509.3 755.2 L520.2 753.9 M520.7 751.2 L515.4 750.4" stroke="#1a90e0" stroke-width="1" fill="none"/>
<text x="735.8" y="618.0" font-size="19" fill="#fff" text-anchor="middle" textLength="245.0" lengthAdjust="spacingAndGlyphs" stroke="#fff" stroke-width="0.4">SARS - Sounding Analogs</text>
<line x1="591.0" y1="625.5" x2="879.0" y2="625.5" stroke="#fff" stroke-width="1"/>
<line x1="736.5" y1="625.5" x2="736.5" y2="788.0" stroke="#fff" stroke-width="1"/>
<text x="663.0" y="639.5" font-size="11.5" fill="#fff" text-anchor="middle" textLength="67.3" lengthAdjust="spacingAndGlyphs" stroke="#fff" stroke-width="0.35">SUPERCELL</text>
<text x="807.0" y="639.5" font-size="11.5" fill="#fff" text-anchor="middle" textLength="73.6" lengthAdjust="spacingAndGlyphs" stroke="#fff" stroke-width="0.35">SGFNT HAIL</text>
<text x="596.7" y="654.7" font-size="9.3" fill="#ff0000" textLength="68.0" lengthAdjust="spacingAndGlyphs" stroke="#ff0000" stroke-width="0.45">69041806.VPS</text>
<text x="700.2" y="654.7" font-size="9.3" fill="#ff0000" textLength="15.5" lengthAdjust="spacingAndGlyphs" stroke="#ff0000" stroke-width="0.45">SIG</text>
<text x="596.7" y="664.8" font-size="9.3" fill="#12a8f0" textLength="70.5" lengthAdjust="spacingAndGlyphs" stroke="#12a8f0" stroke-width="0.45">03050721.ANB</text>
<text x="700.2" y="664.8" font-size="9.3" fill="#12a8f0" textLength="27.8" lengthAdjust="spacingAndGlyphs" stroke="#12a8f0" stroke-width="0.45">WEAK</text>
<text x="596.7" y="674.9" font-size="9.3" fill="#9c6800" textLength="67.5" lengthAdjust="spacingAndGlyphs" stroke="#9c6800" stroke-width="0.45">00110906.EET</text>
<text x="700.2" y="674.9" font-size="9.3" fill="#9c6800" textLength="20.5" lengthAdjust="spacingAndGlyphs" stroke="#9c6800" stroke-width="0.45">NON</text>
<text x="807.0" y="683.2" font-size="9.3" fill="#fff" text-anchor="middle" textLength="85.4" lengthAdjust="spacingAndGlyphs" stroke="#fff" stroke-width="0.3">No Quality Matches</text>
<text x="662.8" y="768.0" font-size="9.3" fill="#f010f0" text-anchor="middle" textLength="79.3" lengthAdjust="spacingAndGlyphs" stroke="#f010f0" stroke-width="0.3">(9 loose matches)</text>
<text x="663.0" y="783.0" font-size="9.3" fill="#f010f0" text-anchor="middle" textLength="69.6" lengthAdjust="spacingAndGlyphs" stroke="#f010f0" stroke-width="0.3">SARS: 56% TOR</text>
<text x="806.6" y="768.0" font-size="9.3" fill="#fff" text-anchor="middle" textLength="79.6" lengthAdjust="spacingAndGlyphs" stroke="#fff" stroke-width="0.3">(1 loose matches)</text>
<text x="807.5" y="783.0" font-size="9.3" fill="#fff" text-anchor="middle" textLength="60.5" lengthAdjust="spacingAndGlyphs" stroke="#fff" stroke-width="0.3">SARS: 0% SIG</text>
<line x1="880.2" y1="775.0" x2="1168.0" y2="775.0" stroke="#004c9a" stroke-width="2" stroke-dasharray="3.8 2.2"/>
<line x1="880.2" y1="760.0" x2="1168.0" y2="760.0" stroke="#004c9a" stroke-width="2" stroke-dasharray="3.8 2.2"/>
<line x1="880.2" y1="745.0" x2="1168.0" y2="745.0" stroke="#004c9a" stroke-width="2" stroke-dasharray="3.8 2.2"/>
<line x1="880.2" y1="731.0" x2="1168.0" y2="731.0" stroke="#004c9a" stroke-width="2" stroke-dasharray="3.8 2.2"/>
<line x1="880.2" y1="716.0" x2="1168.0" y2="716.0" stroke="#004c9a" stroke-width="2" stroke-dasharray="3.8 2.2"/>
<line x1="880.2" y1="701.0" x2="1168.0" y2="701.0" stroke="#004c9a" stroke-width="2" stroke-dasharray="3.8 2.2"/>
<line x1="880.2" y1="687.0" x2="1168.0" y2="687.0" stroke="#004c9a" stroke-width="2" stroke-dasharray="3.8 2.2"/>
<line x1="880.2" y1="672.0" x2="1168.0" y2="672.0" stroke="#004c9a" stroke-width="2" stroke-dasharray="3.8 2.2"/>
<line x1="880.2" y1="658.0" x2="1168.0" y2="658.0" stroke="#004c9a" stroke-width="2" stroke-dasharray="3.8 2.2"/>
<line x1="880.2" y1="643.0" x2="1168.0" y2="643.0" stroke="#004c9a" stroke-width="2" stroke-dasharray="3.8 2.2"/>
<line x1="880.2" y1="628.0" x2="1168.0" y2="628.0" stroke="#004c9a" stroke-width="2" stroke-dasharray="3.8 2.2"/>
<line x1="880.2" y1="614.0" x2="1168.0" y2="614.0" stroke="#004c9a" stroke-width="2" stroke-dasharray="3.8 2.2"/>
<text x="910.7" y="612.0" font-size="14.5" fill="#fff" textLength="111.2" lengthAdjust="spacingAndGlyphs" stroke="#fff" stroke-width="0.25">Effective Layer</text>
<text x="1027.5" y="612.0" font-size="14.5" fill="#fff" textLength="116.3" lengthAdjust="spacingAndGlyphs" stroke="#fff" stroke-width="0.25">STP (with CIN)</text>
<text x="890.3" y="781.0" font-size="13.7" fill="#fff" text-anchor="middle" stroke="#fff" stroke-width="0.3">0</text>
<text x="890.3" y="766.0" font-size="13.7" fill="#fff" text-anchor="middle" stroke="#fff" stroke-width="0.3">1</text>
<text x="890.3" y="751.0" font-size="13.7" fill="#fff" text-anchor="middle" stroke="#fff" stroke-width="0.3">2</text>
<text x="890.3" y="737.0" font-size="13.7" fill="#fff" text-anchor="middle" stroke="#fff" stroke-width="0.3">3</text>
<text x="890.3" y="722.0" font-size="13.7" fill="#fff" text-anchor="middle" stroke="#fff" stroke-width="0.3">4</text>
<text x="890.3" y="707.0" font-size="13.7" fill="#fff" text-anchor="middle" stroke="#fff" stroke-width="0.3">5</text>
<text x="890.3" y="693.0" font-size="13.7" fill="#fff" text-anchor="middle" stroke="#fff" stroke-width="0.3">6</text>
<text x="890.3" y="678.0" font-size="13.7" fill="#fff" text-anchor="middle" stroke="#fff" stroke-width="0.3">7</text>
<text x="890.3" y="664.0" font-size="13.7" fill="#fff" text-anchor="middle" stroke="#fff" stroke-width="0.3">8</text>
<text x="890.3" y="649.0" font-size="13.7" fill="#fff" text-anchor="middle" stroke="#fff" stroke-width="0.3">9</text>
<text x="890.3" y="634.0" font-size="13.7" fill="#fff" text-anchor="middle" stroke="#fff" stroke-width="0.3">10</text>
<text x="890.3" y="620.0" font-size="13.7" fill="#fff" text-anchor="middle" stroke="#fff" stroke-width="0.3">11</text>
<line x1="881.0" y1="742.0" x2="1168.0" y2="742.0" stroke="#cccc00" stroke-width="2"/>
<line x1="922.0" y1="613.0" x2="922.0" y2="653.0" stroke="#00ff00" stroke-width="2"/>
<line x1="922.0" y1="736.0" x2="922.0" y2="757.5" stroke="#00ff00" stroke-width="2"/>
<rect x="911.0" y="653.0" width="21.0" height="83.0" stroke="#00ff00" stroke-width="2" fill="none"/>
<line x1="911.0" y1="697.0" x2="932.0" y2="697.0" stroke="#00ff00" stroke-width="2"/>
<text x="922.0" y="787.0" font-size="10" fill="#fff" text-anchor="middle" stroke="#fff" stroke-width="0.3">EF4+</text>
<line x1="963.0" y1="651.0" x2="963.0" y2="709.0" stroke="#00ff00" stroke-width="2"/>
<line x1="963.0" y1="760.0" x2="963.0" y2="773.0" stroke="#00ff00" stroke-width="2"/>
<rect x="953.0" y="709.0" width="20.0" height="51.0" stroke="#00ff00" stroke-width="2" fill="none"/>
<line x1="953.0" y1="739.0" x2="973.0" y2="739.0" stroke="#00ff00" stroke-width="2"/>
<text x="963.0" y="787.0" font-size="10" fill="#fff" text-anchor="middle" stroke="#fff" stroke-width="0.3">EF3</text>
<line x1="1004.0" y1="692.5" x2="1004.0" y2="720.0" stroke="#00ff00" stroke-width="2"/>
<line x1="1004.0" y1="766.0" x2="1004.0" y2="776.0" stroke="#00ff00" stroke-width="2"/>
<rect x="994.0" y="720.0" width="21.0" height="46.0" stroke="#00ff00" stroke-width="2" fill="none"/>
<line x1="994.0" y1="750.0" x2="1015.0" y2="750.0" stroke="#00ff00" stroke-width="2"/>
<text x="1004.0" y="787.0" font-size="10" fill="#fff" text-anchor="middle" stroke="#fff" stroke-width="0.3">EF2</text>
<line x1="1046.0" y1="708.0" x2="1046.0" y2="736.0" stroke="#00ff00" stroke-width="2"/>
<line x1="1046.0" y1="770.0" x2="1046.0" y2="776.0" stroke="#00ff00" stroke-width="2"/>
<rect x="1035.0" y="736.0" width="21.0" height="34.0" stroke="#00ff00" stroke-width="2" fill="none"/>
<line x1="1035.0" y1="757.0" x2="1056.0" y2="757.0" stroke="#00ff00" stroke-width="2"/>
<text x="1046.0" y="787.0" font-size="10" fill="#fff" text-anchor="middle" stroke="#fff" stroke-width="0.3">EF1</text>
<line x1="1087.0" y1="719.0" x2="1087.0" y2="745.0" stroke="#00ff00" stroke-width="2"/>
<line x1="1087.0" y1="773.0" x2="1087.0" y2="776.0" stroke="#00ff00" stroke-width="2"/>
<rect x="1077.0" y="745.0" width="20.0" height="28.0" stroke="#00ff00" stroke-width="2" fill="none"/>
<line x1="1077.0" y1="763.0" x2="1097.0" y2="763.0" stroke="#00ff00" stroke-width="2"/>
<text x="1087.0" y="787.0" font-size="10" fill="#fff" text-anchor="middle" stroke="#fff" stroke-width="0.3">EF0</text>
<line x1="1128.0" y1="749.0" x2="1128.0" y2="763.0" stroke="#00ff00" stroke-width="2"/>
<line x1="1128.0" y1="775.0" x2="1128.0" y2="776.0" stroke="#00ff00" stroke-width="2"/>
<rect x="1118.0" y="763.0" width="21.0" height="12.0" stroke="#00ff00" stroke-width="2" fill="none"/>
<line x1="1118.0" y1="771.0" x2="1139.0" y2="771.0" stroke="#00ff00" stroke-width="2"/>
<text x="1128.8" y="787.0" font-size="10" fill="#fff" text-anchor="middle" textLength="45.4" lengthAdjust="spacingAndGlyphs" stroke="#fff" stroke-width="0.3">NONTOR</text>
<rect x="1025.0" y="614.2" width="140.3" height="88.0" stroke="#fff" stroke-width="2" fill="#000"/>
<line x1="1025.0" y1="636.8" x2="1165.0" y2="636.8" stroke="#fff" stroke-width="2"/>
<text x="1029.0" y="624.8" font-size="9.3" fill="#fff" textLength="132.6" lengthAdjust="spacingAndGlyphs" stroke="#fff" stroke-width="0.3">Prob EF2+ torn with supercell</text>
<text x="1029.0" y="635.2" font-size="9.3" fill="#fff" textLength="119.5" lengthAdjust="spacingAndGlyphs" stroke="#fff" stroke-width="0.3">Sample CLIMO = .15 sigtor</text>
<text x="1029.0" y="647.0" font-size="9.3" fill="#fff" textLength="71.0" lengthAdjust="spacingAndGlyphs" stroke="#fff" stroke-width="0.3">based on CAPE:</text>
<text x="1131.4" y="647.0" font-size="9.3" fill="#fff" textLength="20.2" lengthAdjust="spacingAndGlyphs" stroke="#fff" stroke-width="0.3">0.16</text>
<text x="1029.0" y="657.0" font-size="9.3" fill="#ffff00" textLength="62.0" lengthAdjust="spacingAndGlyphs" stroke="#ffff00" stroke-width="0.3">based on LCL:</text>
<text x="1131.4" y="657.0" font-size="9.3" fill="#ffff00" textLength="20.2" lengthAdjust="spacingAndGlyphs" stroke="#ffff00" stroke-width="0.3">0.19</text>
<text x="1029.0" y="667.0" font-size="9.3" fill="#ffff00" textLength="70.5" lengthAdjust="spacingAndGlyphs" stroke="#ffff00" stroke-width="0.3">based on ESRH:</text>
<text x="1131.4" y="667.0" font-size="9.3" fill="#ffff00" textLength="14.0" lengthAdjust="spacingAndGlyphs" stroke="#ffff00" stroke-width="0.3">0.2</text>
<text x="1029.0" y="677.0" font-size="9.3" fill="#ffff00" textLength="73.0" lengthAdjust="spacingAndGlyphs" stroke="#ffff00" stroke-width="0.3">based on EBWD:</text>
<text x="1131.4" y="677.0" font-size="9.3" fill="#ffff00" textLength="20.2" lengthAdjust="spacingAndGlyphs" stroke="#ffff00" stroke-width="0.3">0.19</text>
<text x="1029.0" y="687.0" font-size="9.3" fill="#ffff00" textLength="70.0" lengthAdjust="spacingAndGlyphs" stroke="#ffff00" stroke-width="0.3">based on STPC:</text>
<text x="1131.4" y="687.0" font-size="9.3" fill="#ffff00" textLength="20.2" lengthAdjust="spacingAndGlyphs" stroke="#ffff00" stroke-width="0.3">0.25</text>
<text x="1029.0" y="697.0" font-size="9.3" fill="#fff" textLength="90.0" lengthAdjust="spacingAndGlyphs" stroke="#fff" stroke-width="0.3">based on STP_fixed:</text>
<text x="1131.4" y="697.0" font-size="9.3" fill="#fff" textLength="20.2" lengthAdjust="spacingAndGlyphs" stroke="#fff" stroke-width="0.3">0.17</text>
</svg>
</body></html>
